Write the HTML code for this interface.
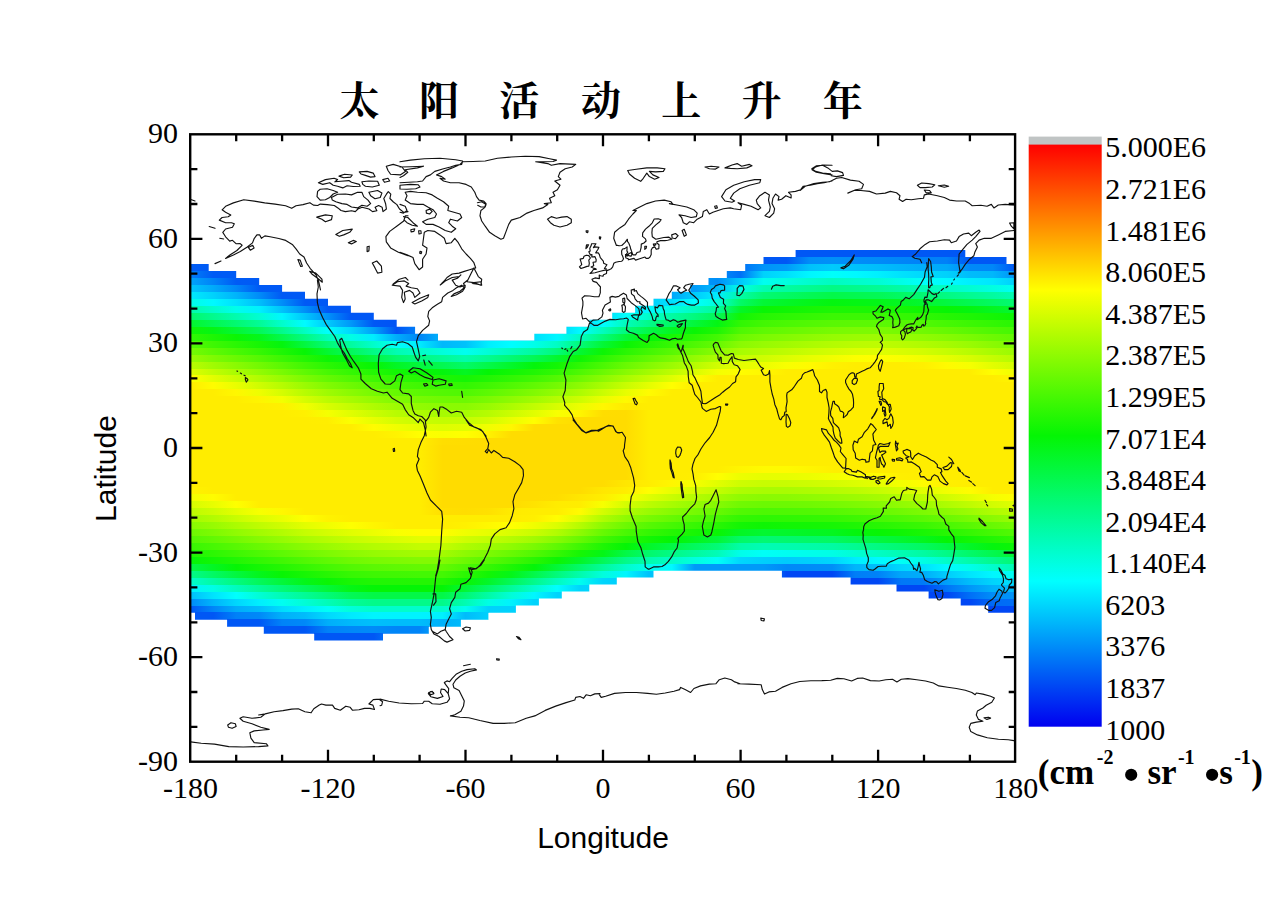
<!DOCTYPE html><html><head><meta charset="utf-8"><title>chart</title><style>html,body{margin:0;padding:0;background:#fff;overflow:hidden}body{width:1269px;height:897px;position:relative;font-family:"Liberation Sans",sans-serif}</style></head><body><svg width="1269" height="897" viewBox="0 0 1269 897" style="position:absolute;left:0;top:0"><defs><clipPath id="bc"><path d="M190.4 263.9 L208.7 263.9 L208.7 270.9 L236.2 270.9 L236.2 277.9 L259.2 277.9 L259.2 284.9 L282.1 284.9 L282.1 291.8 L305.0 291.8 L305.0 298.8 L328.0 298.8 L328.0 305.8 L350.9 305.8 L350.9 312.7 L373.8 312.7 L373.8 319.7 L396.7 319.7 L396.7 326.7 L415.1 326.7 L415.1 333.7 L438.0 333.7 L438.0 340.6 L534.3 340.6 L534.3 333.7 L566.4 333.7 L566.4 326.7 L589.3 326.7 L589.3 319.7 L612.2 319.7 L612.2 312.7 L635.1 312.7 L635.1 305.8 L653.5 305.8 L653.5 298.8 L671.8 298.8 L671.8 291.8 L690.2 291.8 L690.2 284.9 L708.5 284.9 L708.5 277.9 L726.8 277.9 L726.8 270.9 L745.2 270.9 L745.2 263.9 L763.5 263.9 L763.5 257.0 L795.6 257.0 L795.6 250.0 L965.3 250.0 L965.3 257.0 L1006.5 257.0 L1006.5 263.9 L1015.7 263.9 L1015.7 612.5 L988.2 612.5 L988.2 605.5 L960.7 605.5 L960.7 598.5 L928.6 598.5 L928.6 591.6 L896.5 591.6 L896.5 584.6 L850.6 584.6 L850.6 577.6 L781.9 577.6 L781.9 570.7 L653.5 570.7 L653.5 577.6 L616.8 577.6 L616.8 584.6 L589.3 584.6 L589.3 591.6 L561.8 591.6 L561.8 598.5 L538.9 598.5 L538.9 605.5 L515.9 605.5 L515.9 612.5 L488.4 612.5 L488.4 619.5 L460.9 619.5 L460.9 626.4 L428.8 626.4 L428.8 633.4 L383.0 633.4 L383.0 640.4 L314.2 640.4 L314.2 633.4 L263.8 633.4 L263.8 626.4 L227.1 626.4 L227.1 619.5 L195.0 619.5 L195.0 612.5 L190.4 612.5Z"/></clipPath><linearGradient id="r0" gradientUnits="userSpaceOnUse" x1="190.4" x2="1015.7" y1="0" y2="0"><stop offset="0" stop-color="#005cf5"/><stop offset=".0278" stop-color="#005bf5"/><stop offset=".0556" stop-color="#005bf5"/><stop offset=".0833" stop-color="#005af5"/><stop offset=".1111" stop-color="#0059f5"/><stop offset=".1389" stop-color="#0059f5"/><stop offset=".1667" stop-color="#0058f5"/><stop offset=".1944" stop-color="#0057f5"/><stop offset=".2222" stop-color="#0057f5"/><stop offset=".25" stop-color="#0052f5"/><stop offset=".2778" stop-color="#0085f8"/><stop offset=".3056" stop-color="#00b8fb"/><stop offset=".3333" stop-color="#00c2fb"/><stop offset=".3611" stop-color="#0051f5"/><stop offset=".3889" stop-color="#0051f5"/><stop offset=".4167" stop-color="#00e0fd"/><stop offset=".4444" stop-color="#0051f5"/><stop offset=".4722" stop-color="#0051f5"/><stop offset=".5" stop-color="#0051f5"/><stop offset=".5278" stop-color="#0051f5"/><stop offset=".5556" stop-color="#0051f5"/><stop offset=".5833" stop-color="#00a7fa"/><stop offset=".6111" stop-color="#009bf9"/><stop offset=".6389" stop-color="#008ff8"/><stop offset=".6667" stop-color="#0070f7"/><stop offset=".6944" stop-color="#0057f5"/><stop offset=".7222" stop-color="#0057f5"/><stop offset=".75" stop-color="#0057f5"/><stop offset=".7778" stop-color="#0057f5"/><stop offset=".8056" stop-color="#0057f5"/><stop offset=".8333" stop-color="#0057f5"/><stop offset=".8611" stop-color="#0057f5"/><stop offset=".8889" stop-color="#0057f5"/><stop offset=".9167" stop-color="#0057f5"/><stop offset=".9444" stop-color="#0057f5"/><stop offset=".9722" stop-color="#0057f5"/><stop offset="1" stop-color="#0057f5"/></linearGradient><linearGradient id="r1" gradientUnits="userSpaceOnUse" x1="190.4" x2="1015.7" y1="0" y2="0"><stop offset="0" stop-color="#005cf5"/><stop offset=".0278" stop-color="#005bf5"/><stop offset=".0556" stop-color="#005bf5"/><stop offset=".0833" stop-color="#005af5"/><stop offset=".1111" stop-color="#0059f5"/><stop offset=".1389" stop-color="#0059f5"/><stop offset=".1667" stop-color="#0058f5"/><stop offset=".1944" stop-color="#0057f5"/><stop offset=".2222" stop-color="#0057f5"/><stop offset=".25" stop-color="#0052f5"/><stop offset=".2778" stop-color="#0085f8"/><stop offset=".3056" stop-color="#00b8fb"/><stop offset=".3333" stop-color="#00c2fb"/><stop offset=".3611" stop-color="#0051f5"/><stop offset=".3889" stop-color="#0051f5"/><stop offset=".4167" stop-color="#00e0fd"/><stop offset=".4444" stop-color="#0051f5"/><stop offset=".4722" stop-color="#0051f5"/><stop offset=".5" stop-color="#0051f5"/><stop offset=".5278" stop-color="#0051f5"/><stop offset=".5556" stop-color="#0051f5"/><stop offset=".5833" stop-color="#00a7fa"/><stop offset=".6111" stop-color="#009bf9"/><stop offset=".6389" stop-color="#008ff8"/><stop offset=".6667" stop-color="#0070f7"/><stop offset=".6944" stop-color="#0057f5"/><stop offset=".7222" stop-color="#0057f5"/><stop offset=".75" stop-color="#008cf8"/><stop offset=".7778" stop-color="#0090f8"/><stop offset=".8056" stop-color="#008df8"/><stop offset=".8333" stop-color="#008af8"/><stop offset=".8611" stop-color="#0085f8"/><stop offset=".8889" stop-color="#0082f8"/><stop offset=".9167" stop-color="#0080f8"/><stop offset=".9444" stop-color="#0057f5"/><stop offset=".9722" stop-color="#0057f5"/><stop offset="1" stop-color="#0057f5"/></linearGradient><linearGradient id="r2" gradientUnits="userSpaceOnUse" x1="190.4" x2="1015.7" y1="0" y2="0"><stop offset="0" stop-color="#005cf5"/><stop offset=".0278" stop-color="#005bf5"/><stop offset=".0556" stop-color="#005bf5"/><stop offset=".0833" stop-color="#005af5"/><stop offset=".1111" stop-color="#0059f5"/><stop offset=".1389" stop-color="#0059f5"/><stop offset=".1667" stop-color="#0058f5"/><stop offset=".1944" stop-color="#0057f5"/><stop offset=".2222" stop-color="#0057f5"/><stop offset=".25" stop-color="#0052f5"/><stop offset=".2778" stop-color="#0085f8"/><stop offset=".3056" stop-color="#00b8fb"/><stop offset=".3333" stop-color="#00c2fb"/><stop offset=".3611" stop-color="#0051f5"/><stop offset=".3889" stop-color="#0051f5"/><stop offset=".4167" stop-color="#00e0fd"/><stop offset=".4444" stop-color="#0051f5"/><stop offset=".4722" stop-color="#0051f5"/><stop offset=".5" stop-color="#0051f5"/><stop offset=".5278" stop-color="#0051f5"/><stop offset=".5556" stop-color="#0051f5"/><stop offset=".5833" stop-color="#00a7fa"/><stop offset=".6111" stop-color="#009bf9"/><stop offset=".6389" stop-color="#008ff8"/><stop offset=".6667" stop-color="#0070f7"/><stop offset=".6944" stop-color="#0094f9"/><stop offset=".7222" stop-color="#009bf9"/><stop offset=".75" stop-color="#00c1fb"/><stop offset=".7778" stop-color="#00cafc"/><stop offset=".8056" stop-color="#00c3fb"/><stop offset=".8333" stop-color="#00bdfb"/><stop offset=".8611" stop-color="#00b4fb"/><stop offset=".8889" stop-color="#00adfa"/><stop offset=".9167" stop-color="#00a8fa"/><stop offset=".9444" stop-color="#008af8"/><stop offset=".9722" stop-color="#0087f8"/><stop offset="1" stop-color="#0057f5"/></linearGradient><linearGradient id="r3" gradientUnits="userSpaceOnUse" x1="190.4" x2="1015.7" y1="0" y2="0"><stop offset="0" stop-color="#007ff7"/><stop offset=".0278" stop-color="#005bf5"/><stop offset=".0556" stop-color="#005bf5"/><stop offset=".0833" stop-color="#005af5"/><stop offset=".1111" stop-color="#0059f5"/><stop offset=".1389" stop-color="#0059f5"/><stop offset=".1667" stop-color="#0058f5"/><stop offset=".1944" stop-color="#0057f5"/><stop offset=".2222" stop-color="#0057f5"/><stop offset=".25" stop-color="#0052f5"/><stop offset=".2778" stop-color="#0085f8"/><stop offset=".3056" stop-color="#00b8fb"/><stop offset=".3333" stop-color="#00c2fb"/><stop offset=".3611" stop-color="#0051f5"/><stop offset=".3889" stop-color="#0051f5"/><stop offset=".4167" stop-color="#00e0fd"/><stop offset=".4444" stop-color="#0051f5"/><stop offset=".4722" stop-color="#0051f5"/><stop offset=".5" stop-color="#0051f5"/><stop offset=".5278" stop-color="#0051f5"/><stop offset=".5556" stop-color="#0051f5"/><stop offset=".5833" stop-color="#00a7fa"/><stop offset=".6111" stop-color="#009bf9"/><stop offset=".6389" stop-color="#008ff8"/><stop offset=".6667" stop-color="#0070f7"/><stop offset=".6944" stop-color="#00d2fc"/><stop offset=".7222" stop-color="#00e0fd"/><stop offset=".75" stop-color="#00f6fe"/><stop offset=".7778" stop-color="#00fffa"/><stop offset=".8056" stop-color="#00f9ff"/><stop offset=".8333" stop-color="#00f0fe"/><stop offset=".8611" stop-color="#00e2fd"/><stop offset=".8889" stop-color="#00d8fd"/><stop offset=".9167" stop-color="#00d1fc"/><stop offset=".9444" stop-color="#00bcfb"/><stop offset=".9722" stop-color="#00b7fb"/><stop offset="1" stop-color="#0093f9"/></linearGradient><linearGradient id="r4" gradientUnits="userSpaceOnUse" x1="190.4" x2="1015.7" y1="0" y2="0"><stop offset="0" stop-color="#00a3fa"/><stop offset=".0278" stop-color="#0083f8"/><stop offset=".0556" stop-color="#005bf5"/><stop offset=".0833" stop-color="#005af5"/><stop offset=".1111" stop-color="#0059f5"/><stop offset=".1389" stop-color="#0059f5"/><stop offset=".1667" stop-color="#0058f5"/><stop offset=".1944" stop-color="#0057f5"/><stop offset=".2222" stop-color="#0057f5"/><stop offset=".25" stop-color="#0052f5"/><stop offset=".2778" stop-color="#0085f8"/><stop offset=".3056" stop-color="#00b8fb"/><stop offset=".3333" stop-color="#00c2fb"/><stop offset=".3611" stop-color="#0051f5"/><stop offset=".3889" stop-color="#0051f5"/><stop offset=".4167" stop-color="#00e0fd"/><stop offset=".4444" stop-color="#0051f5"/><stop offset=".4722" stop-color="#0051f5"/><stop offset=".5" stop-color="#0051f5"/><stop offset=".5278" stop-color="#0051f5"/><stop offset=".5556" stop-color="#0057f5"/><stop offset=".5833" stop-color="#00a7fa"/><stop offset=".6111" stop-color="#009bf9"/><stop offset=".6389" stop-color="#008ff8"/><stop offset=".6667" stop-color="#00c9fc"/><stop offset=".6944" stop-color="#00feef"/><stop offset=".7222" stop-color="#01fede"/><stop offset=".75" stop-color="#01fdcd"/><stop offset=".7778" stop-color="#01fcbf"/><stop offset=".8056" stop-color="#01fdc9"/><stop offset=".8333" stop-color="#01fdd3"/><stop offset=".8611" stop-color="#00fee7"/><stop offset=".8889" stop-color="#00fffa"/><stop offset=".9167" stop-color="#00faff"/><stop offset=".9444" stop-color="#00effe"/><stop offset=".9722" stop-color="#00e7fe"/><stop offset="1" stop-color="#00cffc"/></linearGradient><linearGradient id="r5" gradientUnits="userSpaceOnUse" x1="190.4" x2="1015.7" y1="0" y2="0"><stop offset="0" stop-color="#00c6fc"/><stop offset=".0278" stop-color="#00aafa"/><stop offset=".0556" stop-color="#0087f8"/><stop offset=".0833" stop-color="#005af5"/><stop offset=".1111" stop-color="#0059f5"/><stop offset=".1389" stop-color="#0059f5"/><stop offset=".1667" stop-color="#0058f5"/><stop offset=".1944" stop-color="#0057f5"/><stop offset=".2222" stop-color="#0057f5"/><stop offset=".25" stop-color="#0052f5"/><stop offset=".2778" stop-color="#0085f8"/><stop offset=".3056" stop-color="#00b8fb"/><stop offset=".3333" stop-color="#00c2fb"/><stop offset=".3611" stop-color="#0051f5"/><stop offset=".3889" stop-color="#0051f5"/><stop offset=".4167" stop-color="#00e0fd"/><stop offset=".4444" stop-color="#0051f5"/><stop offset=".4722" stop-color="#0051f5"/><stop offset=".5" stop-color="#0051f5"/><stop offset=".5278" stop-color="#005ff6"/><stop offset=".5556" stop-color="#0080f8"/><stop offset=".5833" stop-color="#00a7fa"/><stop offset=".6111" stop-color="#009bf9"/><stop offset=".6389" stop-color="#00bdfb"/><stop offset=".6667" stop-color="#00fee6"/><stop offset=".6944" stop-color="#01fcb1"/><stop offset=".7222" stop-color="#01fba1"/><stop offset=".75" stop-color="#02fb92"/><stop offset=".7778" stop-color="#02fa84"/><stop offset=".8056" stop-color="#02fa8c"/><stop offset=".8333" stop-color="#02fb95"/><stop offset=".8611" stop-color="#01fba5"/><stop offset=".8889" stop-color="#01fcb6"/><stop offset=".9167" stop-color="#01fdc5"/><stop offset=".9444" stop-color="#01fdd2"/><stop offset=".9722" stop-color="#01fee0"/><stop offset="1" stop-color="#00fff3"/></linearGradient><linearGradient id="r6" gradientUnits="userSpaceOnUse" x1="190.4" x2="1015.7" y1="0" y2="0"><stop offset="0" stop-color="#00eafe"/><stop offset=".0278" stop-color="#00d2fc"/><stop offset=".0556" stop-color="#00b4fb"/><stop offset=".0833" stop-color="#008cf8"/><stop offset=".1111" stop-color="#0059f5"/><stop offset=".1389" stop-color="#0059f5"/><stop offset=".1667" stop-color="#0058f5"/><stop offset=".1944" stop-color="#0057f5"/><stop offset=".2222" stop-color="#0057f5"/><stop offset=".25" stop-color="#0052f5"/><stop offset=".2778" stop-color="#0085f8"/><stop offset=".3056" stop-color="#00b8fb"/><stop offset=".3333" stop-color="#00c2fb"/><stop offset=".3611" stop-color="#0051f5"/><stop offset=".3889" stop-color="#0051f5"/><stop offset=".4167" stop-color="#00e0fd"/><stop offset=".4444" stop-color="#0051f5"/><stop offset=".4722" stop-color="#0051f5"/><stop offset=".5" stop-color="#005cf5"/><stop offset=".5278" stop-color="#0087f8"/><stop offset=".5556" stop-color="#00a8fa"/><stop offset=".5833" stop-color="#00a7fa"/><stop offset=".6111" stop-color="#00cdfc"/><stop offset=".6389" stop-color="#00ebfe"/><stop offset=".6667" stop-color="#01fba6"/><stop offset=".6944" stop-color="#02f973"/><stop offset=".7222" stop-color="#02f964"/><stop offset=".75" stop-color="#03f856"/><stop offset=".7778" stop-color="#03f849"/><stop offset=".8056" stop-color="#03f850"/><stop offset=".8333" stop-color="#03f856"/><stop offset=".8611" stop-color="#02f964"/><stop offset=".8889" stop-color="#02f973"/><stop offset=".9167" stop-color="#02fa83"/><stop offset=".9444" stop-color="#02fb91"/><stop offset=".9722" stop-color="#02fba0"/><stop offset="1" stop-color="#01fcb3"/></linearGradient><linearGradient id="r7" gradientUnits="userSpaceOnUse" x1="190.4" x2="1015.7" y1="0" y2="0"><stop offset="0" stop-color="#00fee6"/><stop offset=".0278" stop-color="#00f9ff"/><stop offset=".0556" stop-color="#00e1fd"/><stop offset=".0833" stop-color="#00bffb"/><stop offset=".1111" stop-color="#008ef8"/><stop offset=".1389" stop-color="#0059f5"/><stop offset=".1667" stop-color="#0058f5"/><stop offset=".1944" stop-color="#0057f5"/><stop offset=".2222" stop-color="#0057f5"/><stop offset=".25" stop-color="#0052f5"/><stop offset=".2778" stop-color="#0085f8"/><stop offset=".3056" stop-color="#00b8fb"/><stop offset=".3333" stop-color="#00c2fb"/><stop offset=".3611" stop-color="#0051f5"/><stop offset=".3889" stop-color="#0051f5"/><stop offset=".4167" stop-color="#00e0fd"/><stop offset=".4444" stop-color="#0051f5"/><stop offset=".4722" stop-color="#0058f5"/><stop offset=".5" stop-color="#0084f8"/><stop offset=".5278" stop-color="#00b0fa"/><stop offset=".5556" stop-color="#00d1fc"/><stop offset=".5833" stop-color="#00dffd"/><stop offset=".6111" stop-color="#00ffff"/><stop offset=".6389" stop-color="#01fdd9"/><stop offset=".6667" stop-color="#02f967"/><stop offset=".6944" stop-color="#03f736"/><stop offset=".7222" stop-color="#03f628"/><stop offset=".75" stop-color="#04f61a"/><stop offset=".7778" stop-color="#04f50f"/><stop offset=".8056" stop-color="#04f613"/><stop offset=".8333" stop-color="#04f618"/><stop offset=".8611" stop-color="#04f623"/><stop offset=".8889" stop-color="#03f730"/><stop offset=".9167" stop-color="#03f741"/><stop offset=".9444" stop-color="#03f850"/><stop offset=".9722" stop-color="#03f960"/><stop offset="1" stop-color="#02f972"/></linearGradient><linearGradient id="r8" gradientUnits="userSpaceOnUse" x1="190.4" x2="1015.7" y1="0" y2="0"><stop offset="0" stop-color="#01fca9"/><stop offset=".0278" stop-color="#01fdca"/><stop offset=".0556" stop-color="#00feeb"/><stop offset=".0833" stop-color="#00f1fe"/><stop offset=".1111" stop-color="#00c2fb"/><stop offset=".1389" stop-color="#008ff8"/><stop offset=".1667" stop-color="#0058f5"/><stop offset=".1944" stop-color="#0057f5"/><stop offset=".2222" stop-color="#0057f5"/><stop offset=".25" stop-color="#0052f5"/><stop offset=".2778" stop-color="#0085f8"/><stop offset=".3056" stop-color="#00b8fb"/><stop offset=".3333" stop-color="#00c2fb"/><stop offset=".3611" stop-color="#0051f5"/><stop offset=".3889" stop-color="#0051f5"/><stop offset=".4167" stop-color="#00e0fd"/><stop offset=".4444" stop-color="#0055f5"/><stop offset=".4722" stop-color="#0081f8"/><stop offset=".5" stop-color="#00adfa"/><stop offset=".5278" stop-color="#00d9fd"/><stop offset=".5556" stop-color="#00f9ff"/><stop offset=".5833" stop-color="#00fee3"/><stop offset=".6111" stop-color="#01fcbe"/><stop offset=".6389" stop-color="#02fb97"/><stop offset=".6667" stop-color="#03f627"/><stop offset=".6944" stop-color="#09f504"/><stop offset=".7222" stop-color="#10f504"/><stop offset=".75" stop-color="#17f604"/><stop offset=".7778" stop-color="#1df604"/><stop offset=".8056" stop-color="#1cf604"/><stop offset=".8333" stop-color="#1af604"/><stop offset=".8611" stop-color="#15f604"/><stop offset=".8889" stop-color="#0ff504"/><stop offset=".9167" stop-color="#07f504"/><stop offset=".9444" stop-color="#04f50f"/><stop offset=".9722" stop-color="#04f620"/><stop offset="1" stop-color="#03f732"/></linearGradient><linearGradient id="r9" gradientUnits="userSpaceOnUse" x1="190.4" x2="1015.7" y1="0" y2="0"><stop offset="0" stop-color="#02f96c"/><stop offset=".0278" stop-color="#02fa8d"/><stop offset=".0556" stop-color="#01fcae"/><stop offset=".0833" stop-color="#01fdd2"/><stop offset=".1111" stop-color="#00f6fe"/><stop offset=".1389" stop-color="#00c5fc"/><stop offset=".1667" stop-color="#0091f9"/><stop offset=".1944" stop-color="#0057f5"/><stop offset=".2222" stop-color="#0057f5"/><stop offset=".25" stop-color="#0052f5"/><stop offset=".2778" stop-color="#0085f8"/><stop offset=".3056" stop-color="#00b8fb"/><stop offset=".3333" stop-color="#00c2fb"/><stop offset=".3611" stop-color="#0051f5"/><stop offset=".3889" stop-color="#005bf5"/><stop offset=".4167" stop-color="#00e0fd"/><stop offset=".4444" stop-color="#007ef7"/><stop offset=".4722" stop-color="#00a9fa"/><stop offset=".5" stop-color="#00d5fd"/><stop offset=".5278" stop-color="#00fffc"/><stop offset=".5556" stop-color="#01fdc8"/><stop offset=".5833" stop-color="#01fba3"/><stop offset=".6111" stop-color="#02fa7c"/><stop offset=".6389" stop-color="#03f855"/><stop offset=".6667" stop-color="#12f604"/><stop offset=".6944" stop-color="#26f603"/><stop offset=".7222" stop-color="#2df703"/><stop offset=".75" stop-color="#34f703"/><stop offset=".7778" stop-color="#3bf703"/><stop offset=".8056" stop-color="#3cf703"/><stop offset=".8333" stop-color="#3bf703"/><stop offset=".8611" stop-color="#35f703"/><stop offset=".8889" stop-color="#2ff703"/><stop offset=".9167" stop-color="#26f603"/><stop offset=".9444" stop-color="#1ef604"/><stop offset=".9722" stop-color="#15f604"/><stop offset="1" stop-color="#0cf504"/></linearGradient><linearGradient id="r10" gradientUnits="userSpaceOnUse" x1="190.4" x2="1015.7" y1="0" y2="0"><stop offset="0" stop-color="#03f72e"/><stop offset=".0278" stop-color="#03f850"/><stop offset=".0556" stop-color="#02f971"/><stop offset=".0833" stop-color="#02fb95"/><stop offset=".1111" stop-color="#01fdcb"/><stop offset=".1389" stop-color="#00fbff"/><stop offset=".1667" stop-color="#00c9fc"/><stop offset=".1944" stop-color="#0098f9"/><stop offset=".2222" stop-color="#0057f5"/><stop offset=".25" stop-color="#0052f5"/><stop offset=".2778" stop-color="#0085f8"/><stop offset=".3056" stop-color="#00b8fb"/><stop offset=".3333" stop-color="#00c2fb"/><stop offset=".3611" stop-color="#0075f7"/><stop offset=".3889" stop-color="#0083f8"/><stop offset=".4167" stop-color="#00e0fd"/><stop offset=".4444" stop-color="#00a6fa"/><stop offset=".4722" stop-color="#00d2fc"/><stop offset=".5" stop-color="#00feff"/><stop offset=".5278" stop-color="#01fcbb"/><stop offset=".5556" stop-color="#02fa89"/><stop offset=".5833" stop-color="#02f962"/><stop offset=".6111" stop-color="#03f73b"/><stop offset=".6389" stop-color="#04f613"/><stop offset=".6667" stop-color="#30f703"/><stop offset=".6944" stop-color="#42f703"/><stop offset=".7222" stop-color="#4af803"/><stop offset=".75" stop-color="#52f803"/><stop offset=".7778" stop-color="#59f803"/><stop offset=".8056" stop-color="#5cf803"/><stop offset=".8333" stop-color="#5cf903"/><stop offset=".8611" stop-color="#56f803"/><stop offset=".8889" stop-color="#50f803"/><stop offset=".9167" stop-color="#46f803"/><stop offset=".9444" stop-color="#3cf703"/><stop offset=".9722" stop-color="#32f703"/><stop offset="1" stop-color="#28f603"/></linearGradient><linearGradient id="r11" gradientUnits="userSpaceOnUse" x1="190.4" x2="1015.7" y1="0" y2="0"><stop offset="0" stop-color="#0ff504"/><stop offset=".0278" stop-color="#04f613"/><stop offset=".0556" stop-color="#03f734"/><stop offset=".0833" stop-color="#03f858"/><stop offset=".1111" stop-color="#02fa8b"/><stop offset=".1389" stop-color="#01fdc2"/><stop offset=".1667" stop-color="#00fffc"/><stop offset=".1944" stop-color="#00d8fd"/><stop offset=".2222" stop-color="#00a1f9"/><stop offset=".25" stop-color="#0052f5"/><stop offset=".2778" stop-color="#0085f8"/><stop offset=".3056" stop-color="#00b8fb"/><stop offset=".3333" stop-color="#00c2fb"/><stop offset=".3611" stop-color="#009df9"/><stop offset=".3889" stop-color="#00acfa"/><stop offset=".4167" stop-color="#00e0fd"/><stop offset=".4444" stop-color="#00cffc"/><stop offset=".4722" stop-color="#00faff"/><stop offset=".5" stop-color="#01fcbd"/><stop offset=".5278" stop-color="#02fa7a"/><stop offset=".5556" stop-color="#03f849"/><stop offset=".5833" stop-color="#04f622"/><stop offset=".6111" stop-color="#09f504"/><stop offset=".6389" stop-color="#1ff604"/><stop offset=".6667" stop-color="#4ef803"/><stop offset=".6944" stop-color="#5ef903"/><stop offset=".7222" stop-color="#67f902"/><stop offset=".75" stop-color="#70f902"/><stop offset=".7778" stop-color="#78fa02"/><stop offset=".8056" stop-color="#7cfa02"/><stop offset=".8333" stop-color="#7dfa02"/><stop offset=".8611" stop-color="#76fa02"/><stop offset=".8889" stop-color="#70f902"/><stop offset=".9167" stop-color="#66f902"/><stop offset=".9444" stop-color="#5bf803"/><stop offset=".9722" stop-color="#4ff803"/><stop offset="1" stop-color="#45f803"/></linearGradient><linearGradient id="r12" gradientUnits="userSpaceOnUse" x1="190.4" x2="1015.7" y1="0" y2="0"><stop offset="0" stop-color="#31f703"/><stop offset=".0278" stop-color="#1df604"/><stop offset=".0556" stop-color="#0bf504"/><stop offset=".0833" stop-color="#04f61b"/><stop offset=".1111" stop-color="#03f84c"/><stop offset=".1389" stop-color="#02fa81"/><stop offset=".1667" stop-color="#01fcb8"/><stop offset=".1944" stop-color="#00fee4"/><stop offset=".2222" stop-color="#00ecfe"/><stop offset=".25" stop-color="#00adfa"/><stop offset=".2778" stop-color="#0085f8"/><stop offset=".3056" stop-color="#00b8fb"/><stop offset=".3333" stop-color="#00c2fb"/><stop offset=".3611" stop-color="#00c6fc"/><stop offset=".3889" stop-color="#00d4fc"/><stop offset=".4167" stop-color="#00e0fd"/><stop offset=".4444" stop-color="#00f7ff"/><stop offset=".4722" stop-color="#01fcc0"/><stop offset=".5" stop-color="#02fa7a"/><stop offset=".5278" stop-color="#03f73a"/><stop offset=".5556" stop-color="#04f509"/><stop offset=".5833" stop-color="#16f604"/><stop offset=".6111" stop-color="#2cf703"/><stop offset=".6389" stop-color="#43f803"/><stop offset=".6667" stop-color="#6cf902"/><stop offset=".6944" stop-color="#7bfa02"/><stop offset=".7222" stop-color="#84fa02"/><stop offset=".75" stop-color="#8efa02"/><stop offset=".7778" stop-color="#96fb02"/><stop offset=".8056" stop-color="#9bfb02"/><stop offset=".8333" stop-color="#9efb02"/><stop offset=".8611" stop-color="#97fb02"/><stop offset=".8889" stop-color="#90fb02"/><stop offset=".9167" stop-color="#86fa02"/><stop offset=".9444" stop-color="#7afa02"/><stop offset=".9722" stop-color="#6df902"/><stop offset="1" stop-color="#61f903"/></linearGradient><linearGradient id="r13" gradientUnits="userSpaceOnUse" x1="190.4" x2="1015.7" y1="0" y2="0"><stop offset="0" stop-color="#53f803"/><stop offset=".0278" stop-color="#3ef703"/><stop offset=".0556" stop-color="#2af703"/><stop offset=".0833" stop-color="#17f604"/><stop offset=".1111" stop-color="#04f50d"/><stop offset=".1389" stop-color="#03f740"/><stop offset=".1667" stop-color="#02f975"/><stop offset=".1944" stop-color="#02fba0"/><stop offset=".2222" stop-color="#01fdcb"/><stop offset=".25" stop-color="#00fff8"/><stop offset=".2778" stop-color="#00ebfe"/><stop offset=".3056" stop-color="#00b8fb"/><stop offset=".3333" stop-color="#00c2fb"/><stop offset=".3611" stop-color="#00eefe"/><stop offset=".3889" stop-color="#00fdff"/><stop offset=".4167" stop-color="#00fee9"/><stop offset=".4444" stop-color="#01fdc3"/><stop offset=".4722" stop-color="#02fa79"/><stop offset=".5" stop-color="#03f736"/><stop offset=".5278" stop-color="#09f504"/><stop offset=".5556" stop-color="#22f604"/><stop offset=".5833" stop-color="#37f703"/><stop offset=".6111" stop-color="#4ff803"/><stop offset=".6389" stop-color="#66f902"/><stop offset=".6667" stop-color="#8afa02"/><stop offset=".6944" stop-color="#97fb02"/><stop offset=".7222" stop-color="#a1fb01"/><stop offset=".75" stop-color="#abfc01"/><stop offset=".7778" stop-color="#b4fc01"/><stop offset=".8056" stop-color="#bbfc01"/><stop offset=".8333" stop-color="#befc01"/><stop offset=".8611" stop-color="#b8fc01"/><stop offset=".8889" stop-color="#b0fc01"/><stop offset=".9167" stop-color="#a6fb01"/><stop offset=".9444" stop-color="#99fb02"/><stop offset=".9722" stop-color="#8afa02"/><stop offset="1" stop-color="#7dfa02"/></linearGradient><linearGradient id="r14" gradientUnits="userSpaceOnUse" x1="190.4" x2="1015.7" y1="0" y2="0"><stop offset="0" stop-color="#76fa02"/><stop offset=".0278" stop-color="#5ff903"/><stop offset=".0556" stop-color="#4af803"/><stop offset=".0833" stop-color="#36f703"/><stop offset=".1111" stop-color="#1ef604"/><stop offset=".1389" stop-color="#07f504"/><stop offset=".1667" stop-color="#03f732"/><stop offset=".1944" stop-color="#03f85b"/><stop offset=".2222" stop-color="#02fa86"/><stop offset=".25" stop-color="#01fcb2"/><stop offset=".2778" stop-color="#01fdc7"/><stop offset=".3056" stop-color="#01fedb"/><stop offset=".3333" stop-color="#00feef"/><stop offset=".3611" stop-color="#01fdd6"/><stop offset=".3889" stop-color="#01fcbb"/><stop offset=".4167" stop-color="#02fb9f"/><stop offset=".4444" stop-color="#02fa78"/><stop offset=".4722" stop-color="#03f732"/><stop offset=".5" stop-color="#0cf504"/><stop offset=".5278" stop-color="#29f603"/><stop offset=".5556" stop-color="#42f703"/><stop offset=".5833" stop-color="#59f803"/><stop offset=".6111" stop-color="#71f902"/><stop offset=".6389" stop-color="#8afa02"/><stop offset=".6667" stop-color="#a8fc01"/><stop offset=".6944" stop-color="#b3fc01"/><stop offset=".7222" stop-color="#befc01"/><stop offset=".75" stop-color="#c9fd01"/><stop offset=".7778" stop-color="#d3fd01"/><stop offset=".8056" stop-color="#dbfe01"/><stop offset=".8333" stop-color="#dffe01"/><stop offset=".8611" stop-color="#d8fd01"/><stop offset=".8889" stop-color="#d1fd01"/><stop offset=".9167" stop-color="#c5fd01"/><stop offset=".9444" stop-color="#b8fc01"/><stop offset=".9722" stop-color="#a8fc01"/><stop offset="1" stop-color="#9afb02"/></linearGradient><linearGradient id="r15" gradientUnits="userSpaceOnUse" x1="190.4" x2="1015.7" y1="0" y2="0"><stop offset="0" stop-color="#98fb02"/><stop offset=".0278" stop-color="#7ffa02"/><stop offset=".0556" stop-color="#6af902"/><stop offset=".0833" stop-color="#55f803"/><stop offset=".1111" stop-color="#3cf703"/><stop offset=".1389" stop-color="#24f603"/><stop offset=".1667" stop-color="#0df504"/><stop offset=".1944" stop-color="#04f617"/><stop offset=".2222" stop-color="#03f741"/><stop offset=".25" stop-color="#02f96c"/><stop offset=".2778" stop-color="#02fa82"/><stop offset=".3056" stop-color="#02fb96"/><stop offset=".3333" stop-color="#01fcab"/><stop offset=".3611" stop-color="#02fb90"/><stop offset=".3889" stop-color="#02f973"/><stop offset=".4167" stop-color="#03f855"/><stop offset=".4444" stop-color="#03f72e"/><stop offset=".4722" stop-color="#0ff504"/><stop offset=".5" stop-color="#2cf703"/><stop offset=".5278" stop-color="#49f803"/><stop offset=".5556" stop-color="#62f902"/><stop offset=".5833" stop-color="#7afa02"/><stop offset=".6111" stop-color="#94fb02"/><stop offset=".6389" stop-color="#adfc01"/><stop offset=".6667" stop-color="#c6fd01"/><stop offset=".6944" stop-color="#cffd01"/><stop offset=".7222" stop-color="#dbfe01"/><stop offset=".75" stop-color="#e7fe00"/><stop offset=".7778" stop-color="#f1fe00"/><stop offset=".8056" stop-color="#fbff00"/><stop offset=".8333" stop-color="#fffe00"/><stop offset=".8611" stop-color="#f9ff00"/><stop offset=".8889" stop-color="#f1fe00"/><stop offset=".9167" stop-color="#e5fe00"/><stop offset=".9444" stop-color="#d7fd01"/><stop offset=".9722" stop-color="#c5fd01"/><stop offset="1" stop-color="#b6fc01"/></linearGradient><linearGradient id="r16" gradientUnits="userSpaceOnUse" x1="190.4" x2="1015.7" y1="0" y2="0"><stop offset="0" stop-color="#bafc01"/><stop offset=".0278" stop-color="#a0fb02"/><stop offset=".0556" stop-color="#8afa02"/><stop offset=".0833" stop-color="#73f902"/><stop offset=".1111" stop-color="#5bf803"/><stop offset=".1389" stop-color="#41f703"/><stop offset=".1667" stop-color="#2af703"/><stop offset=".1944" stop-color="#18f604"/><stop offset=".2222" stop-color="#07f504"/><stop offset=".25" stop-color="#03f626"/><stop offset=".2778" stop-color="#03f73c"/><stop offset=".3056" stop-color="#03f851"/><stop offset=".3333" stop-color="#02f966"/><stop offset=".3611" stop-color="#03f849"/><stop offset=".3889" stop-color="#03f72b"/><stop offset=".4167" stop-color="#04f50b"/><stop offset=".4444" stop-color="#13f604"/><stop offset=".4722" stop-color="#2ff703"/><stop offset=".5" stop-color="#4bf803"/><stop offset=".5278" stop-color="#69f902"/><stop offset=".5556" stop-color="#83fa02"/><stop offset=".5833" stop-color="#9cfb02"/><stop offset=".6111" stop-color="#b6fc01"/><stop offset=".6389" stop-color="#d1fd01"/><stop offset=".6667" stop-color="#e4fe00"/><stop offset=".6944" stop-color="#ecfe00"/><stop offset=".7222" stop-color="#f8ff00"/><stop offset=".75" stop-color="#fffa00"/><stop offset=".7778" stop-color="#fff100"/><stop offset=".8056" stop-color="#ffed00"/><stop offset=".8333" stop-color="#ffed00"/><stop offset=".8611" stop-color="#ffed00"/><stop offset=".8889" stop-color="#fff000"/><stop offset=".9167" stop-color="#fffa00"/><stop offset=".9444" stop-color="#f6ff00"/><stop offset=".9722" stop-color="#e2fe00"/><stop offset="1" stop-color="#d2fd01"/></linearGradient><linearGradient id="r17" gradientUnits="userSpaceOnUse" x1="190.4" x2="1015.7" y1="0" y2="0"><stop offset="0" stop-color="#ddfe01"/><stop offset=".0278" stop-color="#c1fd01"/><stop offset=".0556" stop-color="#a9fc01"/><stop offset=".0833" stop-color="#92fb02"/><stop offset=".1111" stop-color="#79fa02"/><stop offset=".1389" stop-color="#5ff903"/><stop offset=".1667" stop-color="#47f803"/><stop offset=".1944" stop-color="#35f703"/><stop offset=".2222" stop-color="#23f604"/><stop offset=".25" stop-color="#12f604"/><stop offset=".2778" stop-color="#09f504"/><stop offset=".3056" stop-color="#04f50c"/><stop offset=".3333" stop-color="#04f622"/><stop offset=".3611" stop-color="#04f504"/><stop offset=".3889" stop-color="#12f604"/><stop offset=".4167" stop-color="#21f604"/><stop offset=".4444" stop-color="#33f703"/><stop offset=".4722" stop-color="#4ef803"/><stop offset=".5" stop-color="#6bf902"/><stop offset=".5278" stop-color="#88fa02"/><stop offset=".5556" stop-color="#a3fb01"/><stop offset=".5833" stop-color="#bdfc01"/><stop offset=".6111" stop-color="#d9fd01"/><stop offset=".6389" stop-color="#f4ff00"/><stop offset=".6667" stop-color="#fffc00"/><stop offset=".6944" stop-color="#fff700"/><stop offset=".7222" stop-color="#ffed00"/><stop offset=".75" stop-color="#ffed00"/><stop offset=".7778" stop-color="#ffed00"/><stop offset=".8056" stop-color="#ffed00"/><stop offset=".8333" stop-color="#ffed00"/><stop offset=".8611" stop-color="#ffed00"/><stop offset=".8889" stop-color="#ffed00"/><stop offset=".9167" stop-color="#ffed00"/><stop offset=".9444" stop-color="#ffed00"/><stop offset=".9722" stop-color="#fffe00"/><stop offset="1" stop-color="#effe00"/></linearGradient><linearGradient id="r18" gradientUnits="userSpaceOnUse" x1="190.4" x2="1015.7" y1="0" y2="0"><stop offset="0" stop-color="#ffff00"/><stop offset=".0278" stop-color="#e2fe00"/><stop offset=".0556" stop-color="#c9fd01"/><stop offset=".0833" stop-color="#b1fc01"/><stop offset=".1111" stop-color="#97fb02"/><stop offset=".1389" stop-color="#7cfa02"/><stop offset=".1667" stop-color="#64f902"/><stop offset=".1944" stop-color="#51f803"/><stop offset=".2222" stop-color="#3ff703"/><stop offset=".25" stop-color="#2ef703"/><stop offset=".2778" stop-color="#25f603"/><stop offset=".3056" stop-color="#1cf604"/><stop offset=".3333" stop-color="#15f604"/><stop offset=".3611" stop-color="#22f604"/><stop offset=".3889" stop-color="#31f703"/><stop offset=".4167" stop-color="#41f703"/><stop offset=".4444" stop-color="#54f803"/><stop offset=".4722" stop-color="#6ef902"/><stop offset=".5" stop-color="#8bfa02"/><stop offset=".5278" stop-color="#a8fc01"/><stop offset=".5556" stop-color="#c3fd01"/><stop offset=".5833" stop-color="#defe01"/><stop offset=".6111" stop-color="#fcff00"/><stop offset=".6389" stop-color="#ffed00"/><stop offset=".6667" stop-color="#ffed00"/><stop offset=".6944" stop-color="#ffed00"/><stop offset=".7222" stop-color="#ffed00"/><stop offset=".75" stop-color="#ffed00"/><stop offset=".7778" stop-color="#ffed00"/><stop offset=".8056" stop-color="#ffed00"/><stop offset=".8333" stop-color="#ffed00"/><stop offset=".8611" stop-color="#ffed00"/><stop offset=".8889" stop-color="#ffed00"/><stop offset=".9167" stop-color="#ffed00"/><stop offset=".9444" stop-color="#ffed00"/><stop offset=".9722" stop-color="#ffed00"/><stop offset="1" stop-color="#fff400"/></linearGradient><linearGradient id="r19" gradientUnits="userSpaceOnUse" x1="190.4" x2="1015.7" y1="0" y2="0"><stop offset="0" stop-color="#ffed00"/><stop offset=".0278" stop-color="#fffc00"/><stop offset=".0556" stop-color="#e9fe00"/><stop offset=".0833" stop-color="#cffd01"/><stop offset=".1111" stop-color="#b6fc01"/><stop offset=".1389" stop-color="#9afb02"/><stop offset=".1667" stop-color="#81fa02"/><stop offset=".1944" stop-color="#6ef902"/><stop offset=".2222" stop-color="#5bf803"/><stop offset=".25" stop-color="#49f803"/><stop offset=".2778" stop-color="#40f703"/><stop offset=".3056" stop-color="#38f703"/><stop offset=".3333" stop-color="#32f703"/><stop offset=".3611" stop-color="#40f703"/><stop offset=".3889" stop-color="#50f803"/><stop offset=".4167" stop-color="#61f903"/><stop offset=".4444" stop-color="#75f902"/><stop offset=".4722" stop-color="#8efa02"/><stop offset=".5" stop-color="#aafc01"/><stop offset=".5278" stop-color="#c8fd01"/><stop offset=".5556" stop-color="#e4fe00"/><stop offset=".5833" stop-color="#fffe00"/><stop offset=".6111" stop-color="#ffed00"/><stop offset=".6389" stop-color="#ffed00"/><stop offset=".6667" stop-color="#ffed00"/><stop offset=".6944" stop-color="#ffed00"/><stop offset=".7222" stop-color="#ffed00"/><stop offset=".75" stop-color="#ffed00"/><stop offset=".7778" stop-color="#ffed00"/><stop offset=".8056" stop-color="#ffed00"/><stop offset=".8333" stop-color="#ffed00"/><stop offset=".8611" stop-color="#ffed00"/><stop offset=".8889" stop-color="#ffed00"/><stop offset=".9167" stop-color="#ffed00"/><stop offset=".9444" stop-color="#ffed00"/><stop offset=".9722" stop-color="#ffed00"/><stop offset="1" stop-color="#ffed00"/></linearGradient><linearGradient id="r20" gradientUnits="userSpaceOnUse" x1="190.4" x2="1015.7" y1="0" y2="0"><stop offset="0" stop-color="#ffed00"/><stop offset=".0278" stop-color="#ffed00"/><stop offset=".0556" stop-color="#fff700"/><stop offset=".0833" stop-color="#eefe00"/><stop offset=".1111" stop-color="#d4fd01"/><stop offset=".1389" stop-color="#b7fc01"/><stop offset=".1667" stop-color="#9efb02"/><stop offset=".1944" stop-color="#8afa02"/><stop offset=".2222" stop-color="#77fa02"/><stop offset=".25" stop-color="#65f902"/><stop offset=".2778" stop-color="#5cf803"/><stop offset=".3056" stop-color="#54f803"/><stop offset=".3333" stop-color="#4ff803"/><stop offset=".3611" stop-color="#5df903"/><stop offset=".3889" stop-color="#6ff902"/><stop offset=".4167" stop-color="#81fa02"/><stop offset=".4444" stop-color="#95fb02"/><stop offset=".4722" stop-color="#adfc01"/><stop offset=".5" stop-color="#cafd01"/><stop offset=".5278" stop-color="#e7fe00"/><stop offset=".5556" stop-color="#fffb00"/><stop offset=".5833" stop-color="#ffed00"/><stop offset=".6111" stop-color="#ffed00"/><stop offset=".6389" stop-color="#ffed00"/><stop offset=".6667" stop-color="#ffed00"/><stop offset=".6944" stop-color="#ffed00"/><stop offset=".7222" stop-color="#ffed00"/><stop offset=".75" stop-color="#ffed00"/><stop offset=".7778" stop-color="#ffed00"/><stop offset=".8056" stop-color="#ffed00"/><stop offset=".8333" stop-color="#ffed00"/><stop offset=".8611" stop-color="#ffed00"/><stop offset=".8889" stop-color="#ffed00"/><stop offset=".9167" stop-color="#ffed00"/><stop offset=".9444" stop-color="#ffed00"/><stop offset=".9722" stop-color="#ffed00"/><stop offset="1" stop-color="#ffed00"/></linearGradient><linearGradient id="r21" gradientUnits="userSpaceOnUse" x1="190.4" x2="1015.7" y1="0" y2="0"><stop offset="0" stop-color="#ffed00"/><stop offset=".0278" stop-color="#ffed00"/><stop offset=".0556" stop-color="#ffed00"/><stop offset=".0833" stop-color="#fff400"/><stop offset=".1111" stop-color="#f3ff00"/><stop offset=".1389" stop-color="#d5fd01"/><stop offset=".1667" stop-color="#bbfc01"/><stop offset=".1944" stop-color="#a7fb01"/><stop offset=".2222" stop-color="#93fb02"/><stop offset=".25" stop-color="#81fa02"/><stop offset=".2778" stop-color="#77fa02"/><stop offset=".3056" stop-color="#70f902"/><stop offset=".3333" stop-color="#6df902"/><stop offset=".3611" stop-color="#7bfa02"/><stop offset=".3889" stop-color="#8efa02"/><stop offset=".4167" stop-color="#a1fb02"/><stop offset=".4444" stop-color="#b6fc01"/><stop offset=".4722" stop-color="#cdfd01"/><stop offset=".5" stop-color="#e9fe00"/><stop offset=".5278" stop-color="#fff900"/><stop offset=".5556" stop-color="#ffed00"/><stop offset=".5833" stop-color="#ffed00"/><stop offset=".6111" stop-color="#ffed00"/><stop offset=".6389" stop-color="#ffed00"/><stop offset=".6667" stop-color="#ffed00"/><stop offset=".6944" stop-color="#ffed00"/><stop offset=".7222" stop-color="#ffed00"/><stop offset=".75" stop-color="#ffed00"/><stop offset=".7778" stop-color="#ffed00"/><stop offset=".8056" stop-color="#ffed00"/><stop offset=".8333" stop-color="#ffed00"/><stop offset=".8611" stop-color="#ffed00"/><stop offset=".8889" stop-color="#ffed00"/><stop offset=".9167" stop-color="#ffed00"/><stop offset=".9444" stop-color="#ffed00"/><stop offset=".9722" stop-color="#ffed00"/><stop offset="1" stop-color="#ffed00"/></linearGradient><linearGradient id="r22" gradientUnits="userSpaceOnUse" x1="190.4" x2="1015.7" y1="0" y2="0"><stop offset="0" stop-color="#ffed00"/><stop offset=".0278" stop-color="#ffed00"/><stop offset=".0556" stop-color="#ffed00"/><stop offset=".0833" stop-color="#ffed00"/><stop offset=".1111" stop-color="#fff000"/><stop offset=".1389" stop-color="#f2ff00"/><stop offset=".1667" stop-color="#d8fd01"/><stop offset=".1944" stop-color="#c3fd01"/><stop offset=".2222" stop-color="#affc01"/><stop offset=".25" stop-color="#9dfb02"/><stop offset=".2778" stop-color="#92fb02"/><stop offset=".3056" stop-color="#8bfa02"/><stop offset=".3333" stop-color="#8afa02"/><stop offset=".3611" stop-color="#98fb02"/><stop offset=".3889" stop-color="#acfc01"/><stop offset=".4167" stop-color="#c1fd01"/><stop offset=".4444" stop-color="#d7fd01"/><stop offset=".4722" stop-color="#ecfe00"/><stop offset=".5" stop-color="#fff700"/><stop offset=".5278" stop-color="#ffeb00"/><stop offset=".5556" stop-color="#ffed00"/><stop offset=".5833" stop-color="#ffed00"/><stop offset=".6111" stop-color="#ffed00"/><stop offset=".6389" stop-color="#ffed00"/><stop offset=".6667" stop-color="#ffed00"/><stop offset=".6944" stop-color="#ffed00"/><stop offset=".7222" stop-color="#ffed00"/><stop offset=".75" stop-color="#ffed00"/><stop offset=".7778" stop-color="#ffed00"/><stop offset=".8056" stop-color="#ffed00"/><stop offset=".8333" stop-color="#ffed00"/><stop offset=".8611" stop-color="#ffed00"/><stop offset=".8889" stop-color="#ffed00"/><stop offset=".9167" stop-color="#ffed00"/><stop offset=".9444" stop-color="#ffed00"/><stop offset=".9722" stop-color="#ffed00"/><stop offset="1" stop-color="#ffed00"/></linearGradient><linearGradient id="r23" gradientUnits="userSpaceOnUse" x1="190.4" x2="1015.7" y1="0" y2="0"><stop offset="0" stop-color="#ffed00"/><stop offset=".0278" stop-color="#ffed00"/><stop offset=".0556" stop-color="#ffed00"/><stop offset=".0833" stop-color="#ffed00"/><stop offset=".1111" stop-color="#ffed00"/><stop offset=".1389" stop-color="#fff000"/><stop offset=".1667" stop-color="#f5ff00"/><stop offset=".1944" stop-color="#e0fe00"/><stop offset=".2222" stop-color="#cbfd01"/><stop offset=".25" stop-color="#b8fc01"/><stop offset=".2778" stop-color="#aefc01"/><stop offset=".3056" stop-color="#a7fb01"/><stop offset=".3333" stop-color="#a7fc01"/><stop offset=".3611" stop-color="#b6fc01"/><stop offset=".3889" stop-color="#cbfd01"/><stop offset=".4167" stop-color="#e1fe00"/><stop offset=".4444" stop-color="#f8ff00"/><stop offset=".4722" stop-color="#fff500"/><stop offset=".5" stop-color="#ffdd00"/><stop offset=".5278" stop-color="#ffdc00"/><stop offset=".5556" stop-color="#ffed00"/><stop offset=".5833" stop-color="#ffed00"/><stop offset=".6111" stop-color="#ffed00"/><stop offset=".6389" stop-color="#ffed00"/><stop offset=".6667" stop-color="#ffed00"/><stop offset=".6944" stop-color="#ffed00"/><stop offset=".7222" stop-color="#ffed00"/><stop offset=".75" stop-color="#ffed00"/><stop offset=".7778" stop-color="#ffed00"/><stop offset=".8056" stop-color="#ffed00"/><stop offset=".8333" stop-color="#ffed00"/><stop offset=".8611" stop-color="#ffed00"/><stop offset=".8889" stop-color="#ffed00"/><stop offset=".9167" stop-color="#ffed00"/><stop offset=".9444" stop-color="#ffed00"/><stop offset=".9722" stop-color="#ffed00"/><stop offset="1" stop-color="#ffed00"/></linearGradient><linearGradient id="r24" gradientUnits="userSpaceOnUse" x1="190.4" x2="1015.7" y1="0" y2="0"><stop offset="0" stop-color="#ffed00"/><stop offset=".0278" stop-color="#ffed00"/><stop offset=".0556" stop-color="#ffed00"/><stop offset=".0833" stop-color="#ffed00"/><stop offset=".1111" stop-color="#ffed00"/><stop offset=".1389" stop-color="#ffed00"/><stop offset=".1667" stop-color="#ffee00"/><stop offset=".1944" stop-color="#fcff00"/><stop offset=".2222" stop-color="#e7fe00"/><stop offset=".25" stop-color="#d4fd01"/><stop offset=".2778" stop-color="#c9fd01"/><stop offset=".3056" stop-color="#c3fd01"/><stop offset=".3333" stop-color="#c5fd01"/><stop offset=".3611" stop-color="#d3fd01"/><stop offset=".3889" stop-color="#eafe00"/><stop offset=".4167" stop-color="#fffe00"/><stop offset=".4444" stop-color="#ffe200"/><stop offset=".4722" stop-color="#ffdc00"/><stop offset=".5" stop-color="#ffdc00"/><stop offset=".5278" stop-color="#ffdc00"/><stop offset=".5556" stop-color="#ffed00"/><stop offset=".5833" stop-color="#ffed00"/><stop offset=".6111" stop-color="#ffed00"/><stop offset=".6389" stop-color="#ffed00"/><stop offset=".6667" stop-color="#ffed00"/><stop offset=".6944" stop-color="#ffed00"/><stop offset=".7222" stop-color="#ffed00"/><stop offset=".75" stop-color="#ffed00"/><stop offset=".7778" stop-color="#ffed00"/><stop offset=".8056" stop-color="#ffed00"/><stop offset=".8333" stop-color="#ffed00"/><stop offset=".8611" stop-color="#ffed00"/><stop offset=".8889" stop-color="#ffed00"/><stop offset=".9167" stop-color="#ffed00"/><stop offset=".9444" stop-color="#ffed00"/><stop offset=".9722" stop-color="#ffed00"/><stop offset="1" stop-color="#ffed00"/></linearGradient><linearGradient id="r25" gradientUnits="userSpaceOnUse" x1="190.4" x2="1015.7" y1="0" y2="0"><stop offset="0" stop-color="#ffed00"/><stop offset=".0278" stop-color="#ffed00"/><stop offset=".0556" stop-color="#ffed00"/><stop offset=".0833" stop-color="#ffed00"/><stop offset=".1111" stop-color="#ffed00"/><stop offset=".1389" stop-color="#ffed00"/><stop offset=".1667" stop-color="#ffed00"/><stop offset=".1944" stop-color="#ffed00"/><stop offset=".2222" stop-color="#fffc00"/><stop offset=".25" stop-color="#f0fe00"/><stop offset=".2778" stop-color="#e5fe00"/><stop offset=".3056" stop-color="#defe01"/><stop offset=".3333" stop-color="#e2fe00"/><stop offset=".3611" stop-color="#f1fe00"/><stop offset=".3889" stop-color="#fff700"/><stop offset=".4167" stop-color="#ffdc00"/><stop offset=".4444" stop-color="#ffdc00"/><stop offset=".4722" stop-color="#ffdc00"/><stop offset=".5" stop-color="#ffdc00"/><stop offset=".5278" stop-color="#ffdc00"/><stop offset=".5556" stop-color="#ffed00"/><stop offset=".5833" stop-color="#ffed00"/><stop offset=".6111" stop-color="#ffed00"/><stop offset=".6389" stop-color="#ffed00"/><stop offset=".6667" stop-color="#ffed00"/><stop offset=".6944" stop-color="#ffed00"/><stop offset=".7222" stop-color="#ffed00"/><stop offset=".75" stop-color="#ffed00"/><stop offset=".7778" stop-color="#ffed00"/><stop offset=".8056" stop-color="#ffed00"/><stop offset=".8333" stop-color="#ffed00"/><stop offset=".8611" stop-color="#ffed00"/><stop offset=".8889" stop-color="#ffed00"/><stop offset=".9167" stop-color="#ffed00"/><stop offset=".9444" stop-color="#ffed00"/><stop offset=".9722" stop-color="#ffed00"/><stop offset="1" stop-color="#ffed00"/></linearGradient><linearGradient id="r26" gradientUnits="userSpaceOnUse" x1="190.4" x2="1015.7" y1="0" y2="0"><stop offset="0" stop-color="#ffed00"/><stop offset=".0278" stop-color="#ffed00"/><stop offset=".0556" stop-color="#ffed00"/><stop offset=".0833" stop-color="#ffed00"/><stop offset=".1111" stop-color="#ffed00"/><stop offset=".1389" stop-color="#ffed00"/><stop offset=".1667" stop-color="#ffed00"/><stop offset=".1944" stop-color="#ffed00"/><stop offset=".2222" stop-color="#ffed00"/><stop offset=".25" stop-color="#fff300"/><stop offset=".2778" stop-color="#fffe00"/><stop offset=".3056" stop-color="#faff00"/><stop offset=".3333" stop-color="#ffff00"/><stop offset=".3611" stop-color="#fff200"/><stop offset=".3889" stop-color="#ffdc00"/><stop offset=".4167" stop-color="#ffdc00"/><stop offset=".4444" stop-color="#ffdc00"/><stop offset=".4722" stop-color="#ffdc00"/><stop offset=".5" stop-color="#ffdc00"/><stop offset=".5278" stop-color="#ffdc00"/><stop offset=".5556" stop-color="#ffed00"/><stop offset=".5833" stop-color="#ffed00"/><stop offset=".6111" stop-color="#ffed00"/><stop offset=".6389" stop-color="#ffed00"/><stop offset=".6667" stop-color="#ffed00"/><stop offset=".6944" stop-color="#ffed00"/><stop offset=".7222" stop-color="#ffed00"/><stop offset=".75" stop-color="#ffed00"/><stop offset=".7778" stop-color="#ffed00"/><stop offset=".8056" stop-color="#ffed00"/><stop offset=".8333" stop-color="#ffed00"/><stop offset=".8611" stop-color="#ffed00"/><stop offset=".8889" stop-color="#ffed00"/><stop offset=".9167" stop-color="#ffed00"/><stop offset=".9444" stop-color="#ffed00"/><stop offset=".9722" stop-color="#ffed00"/><stop offset="1" stop-color="#ffed00"/></linearGradient><linearGradient id="r27" gradientUnits="userSpaceOnUse" x1="190.4" x2="1015.7" y1="0" y2="0"><stop offset="0" stop-color="#ffed00"/><stop offset=".0278" stop-color="#ffed00"/><stop offset=".0556" stop-color="#ffed00"/><stop offset=".0833" stop-color="#ffed00"/><stop offset=".1111" stop-color="#ffed00"/><stop offset=".1389" stop-color="#ffed00"/><stop offset=".1667" stop-color="#ffed00"/><stop offset=".1944" stop-color="#ffed00"/><stop offset=".2222" stop-color="#ffed00"/><stop offset=".25" stop-color="#ffed00"/><stop offset=".2778" stop-color="#ffed00"/><stop offset=".3056" stop-color="#ffde00"/><stop offset=".3333" stop-color="#ffdd00"/><stop offset=".3611" stop-color="#ffdc00"/><stop offset=".3889" stop-color="#ffdc00"/><stop offset=".4167" stop-color="#ffdc00"/><stop offset=".4444" stop-color="#ffdc00"/><stop offset=".4722" stop-color="#ffdc00"/><stop offset=".5" stop-color="#ffdc00"/><stop offset=".5278" stop-color="#ffdc00"/><stop offset=".5556" stop-color="#ffed00"/><stop offset=".5833" stop-color="#ffed00"/><stop offset=".6111" stop-color="#ffed00"/><stop offset=".6389" stop-color="#ffed00"/><stop offset=".6667" stop-color="#ffed00"/><stop offset=".6944" stop-color="#ffed00"/><stop offset=".7222" stop-color="#ffed00"/><stop offset=".75" stop-color="#ffed00"/><stop offset=".7778" stop-color="#ffed00"/><stop offset=".8056" stop-color="#ffed00"/><stop offset=".8333" stop-color="#ffed00"/><stop offset=".8611" stop-color="#ffed00"/><stop offset=".8889" stop-color="#ffed00"/><stop offset=".9167" stop-color="#ffed00"/><stop offset=".9444" stop-color="#ffed00"/><stop offset=".9722" stop-color="#ffed00"/><stop offset="1" stop-color="#ffed00"/></linearGradient><linearGradient id="r28" gradientUnits="userSpaceOnUse" x1="190.4" x2="1015.7" y1="0" y2="0"><stop offset="0" stop-color="#ffed00"/><stop offset=".0278" stop-color="#ffed00"/><stop offset=".0556" stop-color="#ffed00"/><stop offset=".0833" stop-color="#ffed00"/><stop offset=".1111" stop-color="#ffed00"/><stop offset=".1389" stop-color="#ffed00"/><stop offset=".1667" stop-color="#ffed00"/><stop offset=".1944" stop-color="#ffed00"/><stop offset=".2222" stop-color="#ffed00"/><stop offset=".25" stop-color="#ffed00"/><stop offset=".2778" stop-color="#ffed00"/><stop offset=".3056" stop-color="#ffdc00"/><stop offset=".3333" stop-color="#ffdc00"/><stop offset=".3611" stop-color="#ffdc00"/><stop offset=".3889" stop-color="#ffdc00"/><stop offset=".4167" stop-color="#ffdc00"/><stop offset=".4444" stop-color="#ffdc00"/><stop offset=".4722" stop-color="#ffdc00"/><stop offset=".5" stop-color="#ffdc00"/><stop offset=".5278" stop-color="#ffdc00"/><stop offset=".5556" stop-color="#ffed00"/><stop offset=".5833" stop-color="#ffed00"/><stop offset=".6111" stop-color="#ffed00"/><stop offset=".6389" stop-color="#ffed00"/><stop offset=".6667" stop-color="#ffed00"/><stop offset=".6944" stop-color="#ffed00"/><stop offset=".7222" stop-color="#ffed00"/><stop offset=".75" stop-color="#ffed00"/><stop offset=".7778" stop-color="#ffed00"/><stop offset=".8056" stop-color="#ffed00"/><stop offset=".8333" stop-color="#ffed00"/><stop offset=".8611" stop-color="#ffed00"/><stop offset=".8889" stop-color="#ffed00"/><stop offset=".9167" stop-color="#ffed00"/><stop offset=".9444" stop-color="#ffed00"/><stop offset=".9722" stop-color="#ffed00"/><stop offset="1" stop-color="#ffed00"/></linearGradient><linearGradient id="r29" gradientUnits="userSpaceOnUse" x1="190.4" x2="1015.7" y1="0" y2="0"><stop offset="0" stop-color="#ffed00"/><stop offset=".0278" stop-color="#ffed00"/><stop offset=".0556" stop-color="#ffed00"/><stop offset=".0833" stop-color="#ffed00"/><stop offset=".1111" stop-color="#ffed00"/><stop offset=".1389" stop-color="#ffed00"/><stop offset=".1667" stop-color="#ffed00"/><stop offset=".1944" stop-color="#ffed00"/><stop offset=".2222" stop-color="#ffed00"/><stop offset=".25" stop-color="#ffed00"/><stop offset=".2778" stop-color="#ffed00"/><stop offset=".3056" stop-color="#ffdc00"/><stop offset=".3333" stop-color="#ffdc00"/><stop offset=".3611" stop-color="#ffdc00"/><stop offset=".3889" stop-color="#ffdc00"/><stop offset=".4167" stop-color="#ffdc00"/><stop offset=".4444" stop-color="#ffdc00"/><stop offset=".4722" stop-color="#ffdc00"/><stop offset=".5" stop-color="#ffdc00"/><stop offset=".5278" stop-color="#ffdc00"/><stop offset=".5556" stop-color="#ffed00"/><stop offset=".5833" stop-color="#ffed00"/><stop offset=".6111" stop-color="#ffed00"/><stop offset=".6389" stop-color="#ffed00"/><stop offset=".6667" stop-color="#ffed00"/><stop offset=".6944" stop-color="#ffed00"/><stop offset=".7222" stop-color="#ffed00"/><stop offset=".75" stop-color="#ffed00"/><stop offset=".7778" stop-color="#ffed00"/><stop offset=".8056" stop-color="#ffed00"/><stop offset=".8333" stop-color="#ffed00"/><stop offset=".8611" stop-color="#ffed00"/><stop offset=".8889" stop-color="#ffed00"/><stop offset=".9167" stop-color="#ffed00"/><stop offset=".9444" stop-color="#ffed00"/><stop offset=".9722" stop-color="#ffed00"/><stop offset="1" stop-color="#ffed00"/></linearGradient><linearGradient id="r30" gradientUnits="userSpaceOnUse" x1="190.4" x2="1015.7" y1="0" y2="0"><stop offset="0" stop-color="#ffed00"/><stop offset=".0278" stop-color="#ffed00"/><stop offset=".0556" stop-color="#ffed00"/><stop offset=".0833" stop-color="#ffed00"/><stop offset=".1111" stop-color="#ffed00"/><stop offset=".1389" stop-color="#ffed00"/><stop offset=".1667" stop-color="#ffed00"/><stop offset=".1944" stop-color="#ffed00"/><stop offset=".2222" stop-color="#ffed00"/><stop offset=".25" stop-color="#ffed00"/><stop offset=".2778" stop-color="#ffed00"/><stop offset=".3056" stop-color="#ffdc00"/><stop offset=".3333" stop-color="#ffdc00"/><stop offset=".3611" stop-color="#ffdc00"/><stop offset=".3889" stop-color="#ffdc00"/><stop offset=".4167" stop-color="#ffdc00"/><stop offset=".4444" stop-color="#ffdc00"/><stop offset=".4722" stop-color="#ffdc00"/><stop offset=".5" stop-color="#ffdc00"/><stop offset=".5278" stop-color="#ffdc00"/><stop offset=".5556" stop-color="#ffed00"/><stop offset=".5833" stop-color="#ffed00"/><stop offset=".6111" stop-color="#ffed00"/><stop offset=".6389" stop-color="#ffed00"/><stop offset=".6667" stop-color="#ffed00"/><stop offset=".6944" stop-color="#ffed00"/><stop offset=".7222" stop-color="#ffed00"/><stop offset=".75" stop-color="#ffed00"/><stop offset=".7778" stop-color="#ffed00"/><stop offset=".8056" stop-color="#ffed00"/><stop offset=".8333" stop-color="#ffed00"/><stop offset=".8611" stop-color="#ffed00"/><stop offset=".8889" stop-color="#ffed00"/><stop offset=".9167" stop-color="#ffed00"/><stop offset=".9444" stop-color="#ffed00"/><stop offset=".9722" stop-color="#ffed00"/><stop offset="1" stop-color="#ffed00"/></linearGradient><linearGradient id="r31" gradientUnits="userSpaceOnUse" x1="190.4" x2="1015.7" y1="0" y2="0"><stop offset="0" stop-color="#ffed00"/><stop offset=".0278" stop-color="#ffed00"/><stop offset=".0556" stop-color="#ffed00"/><stop offset=".0833" stop-color="#ffed00"/><stop offset=".1111" stop-color="#ffed00"/><stop offset=".1389" stop-color="#ffed00"/><stop offset=".1667" stop-color="#ffed00"/><stop offset=".1944" stop-color="#ffed00"/><stop offset=".2222" stop-color="#ffed00"/><stop offset=".25" stop-color="#ffed00"/><stop offset=".2778" stop-color="#ffed00"/><stop offset=".3056" stop-color="#ffdc00"/><stop offset=".3333" stop-color="#ffdc00"/><stop offset=".3611" stop-color="#ffdc00"/><stop offset=".3889" stop-color="#ffdc00"/><stop offset=".4167" stop-color="#ffdc00"/><stop offset=".4444" stop-color="#ffdc00"/><stop offset=".4722" stop-color="#ffdc00"/><stop offset=".5" stop-color="#ffdc00"/><stop offset=".5278" stop-color="#ffdc00"/><stop offset=".5556" stop-color="#ffed00"/><stop offset=".5833" stop-color="#ffed00"/><stop offset=".6111" stop-color="#ffed00"/><stop offset=".6389" stop-color="#ffed00"/><stop offset=".6667" stop-color="#fff500"/><stop offset=".6944" stop-color="#fffa00"/><stop offset=".7222" stop-color="#fffa00"/><stop offset=".75" stop-color="#fff500"/><stop offset=".7778" stop-color="#ffef00"/><stop offset=".8056" stop-color="#ffed00"/><stop offset=".8333" stop-color="#ffed00"/><stop offset=".8611" stop-color="#ffed00"/><stop offset=".8889" stop-color="#ffed00"/><stop offset=".9167" stop-color="#ffed00"/><stop offset=".9444" stop-color="#ffed00"/><stop offset=".9722" stop-color="#ffed00"/><stop offset="1" stop-color="#ffed00"/></linearGradient><linearGradient id="r32" gradientUnits="userSpaceOnUse" x1="190.4" x2="1015.7" y1="0" y2="0"><stop offset="0" stop-color="#ffed00"/><stop offset=".0278" stop-color="#ffed00"/><stop offset=".0556" stop-color="#ffed00"/><stop offset=".0833" stop-color="#ffed00"/><stop offset=".1111" stop-color="#ffed00"/><stop offset=".1389" stop-color="#ffed00"/><stop offset=".1667" stop-color="#ffed00"/><stop offset=".1944" stop-color="#ffed00"/><stop offset=".2222" stop-color="#ffed00"/><stop offset=".25" stop-color="#ffed00"/><stop offset=".2778" stop-color="#ffed00"/><stop offset=".3056" stop-color="#ffdc00"/><stop offset=".3333" stop-color="#ffdc00"/><stop offset=".3611" stop-color="#ffdc00"/><stop offset=".3889" stop-color="#ffdc00"/><stop offset=".4167" stop-color="#ffdc00"/><stop offset=".4444" stop-color="#ffdc00"/><stop offset=".4722" stop-color="#ffdc00"/><stop offset=".5" stop-color="#ffdc00"/><stop offset=".5278" stop-color="#ffdc00"/><stop offset=".5556" stop-color="#ffed00"/><stop offset=".5833" stop-color="#ffed00"/><stop offset=".6111" stop-color="#ffee00"/><stop offset=".6389" stop-color="#fffe00"/><stop offset=".6667" stop-color="#ecfe00"/><stop offset=".6944" stop-color="#e6fe00"/><stop offset=".7222" stop-color="#e7fe00"/><stop offset=".75" stop-color="#ecfe00"/><stop offset=".7778" stop-color="#f3ff00"/><stop offset=".8056" stop-color="#faff00"/><stop offset=".8333" stop-color="#fffb00"/><stop offset=".8611" stop-color="#ffef00"/><stop offset=".8889" stop-color="#ffed00"/><stop offset=".9167" stop-color="#ffed00"/><stop offset=".9444" stop-color="#ffed00"/><stop offset=".9722" stop-color="#ffed00"/><stop offset="1" stop-color="#ffed00"/></linearGradient><linearGradient id="r33" gradientUnits="userSpaceOnUse" x1="190.4" x2="1015.7" y1="0" y2="0"><stop offset="0" stop-color="#ffed00"/><stop offset=".0278" stop-color="#ffed00"/><stop offset=".0556" stop-color="#ffed00"/><stop offset=".0833" stop-color="#ffed00"/><stop offset=".1111" stop-color="#ffed00"/><stop offset=".1389" stop-color="#ffed00"/><stop offset=".1667" stop-color="#ffed00"/><stop offset=".1944" stop-color="#ffed00"/><stop offset=".2222" stop-color="#ffed00"/><stop offset=".25" stop-color="#ffed00"/><stop offset=".2778" stop-color="#ffed00"/><stop offset=".3056" stop-color="#ffdc00"/><stop offset=".3333" stop-color="#ffdc00"/><stop offset=".3611" stop-color="#ffdc00"/><stop offset=".3889" stop-color="#ffdc00"/><stop offset=".4167" stop-color="#ffdc00"/><stop offset=".4444" stop-color="#ffdc00"/><stop offset=".4722" stop-color="#ffdc00"/><stop offset=".5" stop-color="#ffdc00"/><stop offset=".5278" stop-color="#ffe700"/><stop offset=".5556" stop-color="#ffed00"/><stop offset=".5833" stop-color="#fff600"/><stop offset=".6111" stop-color="#f5ff00"/><stop offset=".6389" stop-color="#e1fe00"/><stop offset=".6667" stop-color="#cdfd01"/><stop offset=".6944" stop-color="#c7fd01"/><stop offset=".7222" stop-color="#c8fd01"/><stop offset=".75" stop-color="#cdfd01"/><stop offset=".7778" stop-color="#d3fd01"/><stop offset=".8056" stop-color="#dbfe01"/><stop offset=".8333" stop-color="#e5fe00"/><stop offset=".8611" stop-color="#f3ff00"/><stop offset=".8889" stop-color="#fffc00"/><stop offset=".9167" stop-color="#ffef00"/><stop offset=".9444" stop-color="#ffed00"/><stop offset=".9722" stop-color="#ffed00"/><stop offset="1" stop-color="#ffed00"/></linearGradient><linearGradient id="r34" gradientUnits="userSpaceOnUse" x1="190.4" x2="1015.7" y1="0" y2="0"><stop offset="0" stop-color="#fff200"/><stop offset=".0278" stop-color="#ffed00"/><stop offset=".0556" stop-color="#ffed00"/><stop offset=".0833" stop-color="#ffed00"/><stop offset=".1111" stop-color="#ffed00"/><stop offset=".1389" stop-color="#ffed00"/><stop offset=".1667" stop-color="#ffed00"/><stop offset=".1944" stop-color="#ffed00"/><stop offset=".2222" stop-color="#ffed00"/><stop offset=".25" stop-color="#ffed00"/><stop offset=".2778" stop-color="#ffed00"/><stop offset=".3056" stop-color="#ffdc00"/><stop offset=".3333" stop-color="#ffdc00"/><stop offset=".3611" stop-color="#ffdc00"/><stop offset=".3889" stop-color="#ffdc00"/><stop offset=".4167" stop-color="#ffdc00"/><stop offset=".4444" stop-color="#ffdc00"/><stop offset=".4722" stop-color="#ffdc00"/><stop offset=".5" stop-color="#ffe700"/><stop offset=".5278" stop-color="#ffed00"/><stop offset=".5556" stop-color="#fffe00"/><stop offset=".5833" stop-color="#e9fe00"/><stop offset=".6111" stop-color="#d5fd01"/><stop offset=".6389" stop-color="#c2fd01"/><stop offset=".6667" stop-color="#aefc01"/><stop offset=".6944" stop-color="#a9fc01"/><stop offset=".7222" stop-color="#a9fc01"/><stop offset=".75" stop-color="#aefc01"/><stop offset=".7778" stop-color="#b4fc01"/><stop offset=".8056" stop-color="#bbfc01"/><stop offset=".8333" stop-color="#c5fd01"/><stop offset=".8611" stop-color="#d3fd01"/><stop offset=".8889" stop-color="#e1fe00"/><stop offset=".9167" stop-color="#f2fe00"/><stop offset=".9444" stop-color="#fffc00"/><stop offset=".9722" stop-color="#ffed00"/><stop offset="1" stop-color="#ffed00"/></linearGradient><linearGradient id="r35" gradientUnits="userSpaceOnUse" x1="190.4" x2="1015.7" y1="0" y2="0"><stop offset="0" stop-color="#f2fe00"/><stop offset=".0278" stop-color="#fffc00"/><stop offset=".0556" stop-color="#ffed00"/><stop offset=".0833" stop-color="#ffed00"/><stop offset=".1111" stop-color="#ffed00"/><stop offset=".1389" stop-color="#ffed00"/><stop offset=".1667" stop-color="#ffed00"/><stop offset=".1944" stop-color="#ffed00"/><stop offset=".2222" stop-color="#ffed00"/><stop offset=".25" stop-color="#ffed00"/><stop offset=".2778" stop-color="#ffed00"/><stop offset=".3056" stop-color="#ffdc00"/><stop offset=".3333" stop-color="#ffdc00"/><stop offset=".3611" stop-color="#ffdc00"/><stop offset=".3889" stop-color="#ffdc00"/><stop offset=".4167" stop-color="#ffdc00"/><stop offset=".4444" stop-color="#ffdd00"/><stop offset=".4722" stop-color="#ffe600"/><stop offset=".5" stop-color="#ffed00"/><stop offset=".5278" stop-color="#f7ff00"/><stop offset=".5556" stop-color="#defe01"/><stop offset=".5833" stop-color="#c9fd01"/><stop offset=".6111" stop-color="#b5fc01"/><stop offset=".6389" stop-color="#a3fb01"/><stop offset=".6667" stop-color="#8ffb02"/><stop offset=".6944" stop-color="#8afa02"/><stop offset=".7222" stop-color="#8bfa02"/><stop offset=".75" stop-color="#8ffb02"/><stop offset=".7778" stop-color="#95fb02"/><stop offset=".8056" stop-color="#9cfb02"/><stop offset=".8333" stop-color="#a5fb01"/><stop offset=".8611" stop-color="#b2fc01"/><stop offset=".8889" stop-color="#c0fc01"/><stop offset=".9167" stop-color="#d0fd01"/><stop offset=".9444" stop-color="#e1fe00"/><stop offset=".9722" stop-color="#f5ff00"/><stop offset="1" stop-color="#fffd00"/></linearGradient><linearGradient id="r36" gradientUnits="userSpaceOnUse" x1="190.4" x2="1015.7" y1="0" y2="0"><stop offset="0" stop-color="#d7fd01"/><stop offset=".0278" stop-color="#e8fe00"/><stop offset=".0556" stop-color="#feff00"/><stop offset=".0833" stop-color="#ffed00"/><stop offset=".1111" stop-color="#ffed00"/><stop offset=".1389" stop-color="#ffed00"/><stop offset=".1667" stop-color="#ffed00"/><stop offset=".1944" stop-color="#ffed00"/><stop offset=".2222" stop-color="#ffed00"/><stop offset=".25" stop-color="#ffed00"/><stop offset=".2778" stop-color="#ffed00"/><stop offset=".3056" stop-color="#ffdc00"/><stop offset=".3333" stop-color="#ffdc00"/><stop offset=".3611" stop-color="#ffdc00"/><stop offset=".3889" stop-color="#ffdc00"/><stop offset=".4167" stop-color="#ffe300"/><stop offset=".4444" stop-color="#ffec00"/><stop offset=".4722" stop-color="#ffed00"/><stop offset=".5" stop-color="#f7ff00"/><stop offset=".5278" stop-color="#d4fd01"/><stop offset=".5556" stop-color="#bcfc01"/><stop offset=".5833" stop-color="#a8fc01"/><stop offset=".6111" stop-color="#96fb02"/><stop offset=".6389" stop-color="#85fa02"/><stop offset=".6667" stop-color="#70f902"/><stop offset=".6944" stop-color="#6bf902"/><stop offset=".7222" stop-color="#6cf902"/><stop offset=".75" stop-color="#70f902"/><stop offset=".7778" stop-color="#75fa02"/><stop offset=".8056" stop-color="#7dfa02"/><stop offset=".8333" stop-color="#86fa02"/><stop offset=".8611" stop-color="#91fb02"/><stop offset=".8889" stop-color="#9efb02"/><stop offset=".9167" stop-color="#aefc01"/><stop offset=".9444" stop-color="#bffc01"/><stop offset=".9722" stop-color="#d2fd01"/><stop offset="1" stop-color="#dffe01"/></linearGradient><linearGradient id="r37" gradientUnits="userSpaceOnUse" x1="190.4" x2="1015.7" y1="0" y2="0"><stop offset="0" stop-color="#bdfc01"/><stop offset=".0278" stop-color="#cdfd01"/><stop offset=".0556" stop-color="#e3fe00"/><stop offset=".0833" stop-color="#f7ff00"/><stop offset=".1111" stop-color="#fff700"/><stop offset=".1389" stop-color="#ffed00"/><stop offset=".1667" stop-color="#ffed00"/><stop offset=".1944" stop-color="#ffed00"/><stop offset=".2222" stop-color="#ffed00"/><stop offset=".25" stop-color="#ffed00"/><stop offset=".2778" stop-color="#ffed00"/><stop offset=".3056" stop-color="#ffdf00"/><stop offset=".3333" stop-color="#ffdd00"/><stop offset=".3611" stop-color="#ffe000"/><stop offset=".3889" stop-color="#ffeb00"/><stop offset=".4167" stop-color="#ffed00"/><stop offset=".4444" stop-color="#ffed00"/><stop offset=".4722" stop-color="#fffb00"/><stop offset=".5" stop-color="#d3fd01"/><stop offset=".5278" stop-color="#b1fc01"/><stop offset=".5556" stop-color="#9afb02"/><stop offset=".5833" stop-color="#87fa02"/><stop offset=".6111" stop-color="#76fa02"/><stop offset=".6389" stop-color="#66f902"/><stop offset=".6667" stop-color="#51f803"/><stop offset=".6944" stop-color="#4cf803"/><stop offset=".7222" stop-color="#4ef803"/><stop offset=".75" stop-color="#51f803"/><stop offset=".7778" stop-color="#56f803"/><stop offset=".8056" stop-color="#5df903"/><stop offset=".8333" stop-color="#66f902"/><stop offset=".8611" stop-color="#71f902"/><stop offset=".8889" stop-color="#7dfa02"/><stop offset=".9167" stop-color="#8cfa02"/><stop offset=".9444" stop-color="#9cfb02"/><stop offset=".9722" stop-color="#affc01"/><stop offset="1" stop-color="#bcfc01"/></linearGradient><linearGradient id="r38" gradientUnits="userSpaceOnUse" x1="190.4" x2="1015.7" y1="0" y2="0"><stop offset="0" stop-color="#a2fb01"/><stop offset=".0278" stop-color="#b2fc01"/><stop offset=".0556" stop-color="#c7fd01"/><stop offset=".0833" stop-color="#dbfe01"/><stop offset=".1111" stop-color="#ebfe00"/><stop offset=".1389" stop-color="#ffff00"/><stop offset=".1667" stop-color="#fff200"/><stop offset=".1944" stop-color="#ffed00"/><stop offset=".2222" stop-color="#ffed00"/><stop offset=".25" stop-color="#ffed00"/><stop offset=".2778" stop-color="#ffed00"/><stop offset=".3056" stop-color="#ffed00"/><stop offset=".3333" stop-color="#ffed00"/><stop offset=".3611" stop-color="#ffed00"/><stop offset=".3889" stop-color="#ffed00"/><stop offset=".4167" stop-color="#ffef00"/><stop offset=".4444" stop-color="#fffd00"/><stop offset=".4722" stop-color="#ddfe01"/><stop offset=".5" stop-color="#affc01"/><stop offset=".5278" stop-color="#8efb02"/><stop offset=".5556" stop-color="#78fa02"/><stop offset=".5833" stop-color="#66f902"/><stop offset=".6111" stop-color="#56f803"/><stop offset=".6389" stop-color="#47f803"/><stop offset=".6667" stop-color="#32f703"/><stop offset=".6944" stop-color="#2df703"/><stop offset=".7222" stop-color="#2ff703"/><stop offset=".75" stop-color="#32f703"/><stop offset=".7778" stop-color="#36f703"/><stop offset=".8056" stop-color="#3ef703"/><stop offset=".8333" stop-color="#46f803"/><stop offset=".8611" stop-color="#50f803"/><stop offset=".8889" stop-color="#5cf803"/><stop offset=".9167" stop-color="#6af902"/><stop offset=".9444" stop-color="#7afa02"/><stop offset=".9722" stop-color="#8bfa02"/><stop offset="1" stop-color="#99fb02"/></linearGradient><linearGradient id="r39" gradientUnits="userSpaceOnUse" x1="190.4" x2="1015.7" y1="0" y2="0"><stop offset="0" stop-color="#88fa02"/><stop offset=".0278" stop-color="#97fb02"/><stop offset=".0556" stop-color="#abfc01"/><stop offset=".0833" stop-color="#befc01"/><stop offset=".1111" stop-color="#cffd01"/><stop offset=".1389" stop-color="#e2fe00"/><stop offset=".1667" stop-color="#f1fe00"/><stop offset=".1944" stop-color="#feff00"/><stop offset=".2222" stop-color="#fff500"/><stop offset=".25" stop-color="#ffed00"/><stop offset=".2778" stop-color="#ffed00"/><stop offset=".3056" stop-color="#ffed00"/><stop offset=".3333" stop-color="#fff100"/><stop offset=".3611" stop-color="#fff800"/><stop offset=".3889" stop-color="#ffff00"/><stop offset=".4167" stop-color="#f0fe00"/><stop offset=".4444" stop-color="#dafe01"/><stop offset=".4722" stop-color="#b5fc01"/><stop offset=".5" stop-color="#8bfa02"/><stop offset=".5278" stop-color="#6cf902"/><stop offset=".5556" stop-color="#56f803"/><stop offset=".5833" stop-color="#46f803"/><stop offset=".6111" stop-color="#37f703"/><stop offset=".6389" stop-color="#28f603"/><stop offset=".6667" stop-color="#13f604"/><stop offset=".6944" stop-color="#0ef504"/><stop offset=".7222" stop-color="#11f604"/><stop offset=".75" stop-color="#13f604"/><stop offset=".7778" stop-color="#17f604"/><stop offset=".8056" stop-color="#1ef604"/><stop offset=".8333" stop-color="#27f603"/><stop offset=".8611" stop-color="#30f703"/><stop offset=".8889" stop-color="#3af703"/><stop offset=".9167" stop-color="#49f803"/><stop offset=".9444" stop-color="#58f803"/><stop offset=".9722" stop-color="#68f902"/><stop offset="1" stop-color="#76fa02"/></linearGradient><linearGradient id="r40" gradientUnits="userSpaceOnUse" x1="190.4" x2="1015.7" y1="0" y2="0"><stop offset="0" stop-color="#6df902"/><stop offset=".0278" stop-color="#7dfa02"/><stop offset=".0556" stop-color="#90fb02"/><stop offset=".0833" stop-color="#a2fb01"/><stop offset=".1111" stop-color="#b2fc01"/><stop offset=".1389" stop-color="#c5fd01"/><stop offset=".1667" stop-color="#d4fd01"/><stop offset=".1944" stop-color="#e1fe00"/><stop offset=".2222" stop-color="#edfe00"/><stop offset=".25" stop-color="#f9ff00"/><stop offset=".2778" stop-color="#fffc00"/><stop offset=".3056" stop-color="#fffc00"/><stop offset=".3333" stop-color="#f0fe00"/><stop offset=".3611" stop-color="#e6fe00"/><stop offset=".3889" stop-color="#d9fe01"/><stop offset=".4167" stop-color="#c9fd01"/><stop offset=".4444" stop-color="#b1fc01"/><stop offset=".4722" stop-color="#8dfa02"/><stop offset=".5" stop-color="#66f902"/><stop offset=".5278" stop-color="#49f803"/><stop offset=".5556" stop-color="#34f703"/><stop offset=".5833" stop-color="#25f603"/><stop offset=".6111" stop-color="#17f604"/><stop offset=".6389" stop-color="#0af504"/><stop offset=".6667" stop-color="#03f625"/><stop offset=".6944" stop-color="#03f731"/><stop offset=".7222" stop-color="#03f72b"/><stop offset=".75" stop-color="#03f625"/><stop offset=".7778" stop-color="#04f61f"/><stop offset=".8056" stop-color="#04f50e"/><stop offset=".8333" stop-color="#07f504"/><stop offset=".8611" stop-color="#0ff504"/><stop offset=".8889" stop-color="#19f604"/><stop offset=".9167" stop-color="#27f603"/><stop offset=".9444" stop-color="#35f703"/><stop offset=".9722" stop-color="#45f803"/><stop offset="1" stop-color="#53f803"/></linearGradient><linearGradient id="r41" gradientUnits="userSpaceOnUse" x1="190.4" x2="1015.7" y1="0" y2="0"><stop offset="0" stop-color="#53f803"/><stop offset=".0278" stop-color="#62f903"/><stop offset=".0556" stop-color="#74f902"/><stop offset=".0833" stop-color="#86fa02"/><stop offset=".1111" stop-color="#96fb02"/><stop offset=".1389" stop-color="#a8fc01"/><stop offset=".1667" stop-color="#b7fc01"/><stop offset=".1944" stop-color="#c5fd01"/><stop offset=".2222" stop-color="#d0fd01"/><stop offset=".25" stop-color="#dafe01"/><stop offset=".2778" stop-color="#e3fe00"/><stop offset=".3056" stop-color="#e3fe00"/><stop offset=".3333" stop-color="#cffd01"/><stop offset=".3611" stop-color="#c2fd01"/><stop offset=".3889" stop-color="#b4fc01"/><stop offset=".4167" stop-color="#a1fb02"/><stop offset=".4444" stop-color="#87fa02"/><stop offset=".4722" stop-color="#66f902"/><stop offset=".5" stop-color="#42f703"/><stop offset=".5278" stop-color="#26f603"/><stop offset=".5556" stop-color="#12f604"/><stop offset=".5833" stop-color="#04f504"/><stop offset=".6111" stop-color="#04f61e"/><stop offset=".6389" stop-color="#03f738"/><stop offset=".6667" stop-color="#02f967"/><stop offset=".6944" stop-color="#02f973"/><stop offset=".7222" stop-color="#02f96d"/><stop offset=".75" stop-color="#02f967"/><stop offset=".7778" stop-color="#03f961"/><stop offset=".8056" stop-color="#03f850"/><stop offset=".8333" stop-color="#03f740"/><stop offset=".8611" stop-color="#03f730"/><stop offset=".8889" stop-color="#04f61d"/><stop offset=".9167" stop-color="#05f504"/><stop offset=".9444" stop-color="#13f604"/><stop offset=".9722" stop-color="#22f604"/><stop offset="1" stop-color="#30f703"/></linearGradient><linearGradient id="r42" gradientUnits="userSpaceOnUse" x1="190.4" x2="1015.7" y1="0" y2="0"><stop offset="0" stop-color="#38f703"/><stop offset=".0278" stop-color="#47f803"/><stop offset=".0556" stop-color="#58f803"/><stop offset=".0833" stop-color="#69f902"/><stop offset=".1111" stop-color="#79fa02"/><stop offset=".1389" stop-color="#8bfa02"/><stop offset=".1667" stop-color="#9afb02"/><stop offset=".1944" stop-color="#a8fc01"/><stop offset=".2222" stop-color="#b3fc01"/><stop offset=".25" stop-color="#bbfc01"/><stop offset=".2778" stop-color="#c3fd01"/><stop offset=".3056" stop-color="#c3fd01"/><stop offset=".3333" stop-color="#aefc01"/><stop offset=".3611" stop-color="#9ffb02"/><stop offset=".3889" stop-color="#8efb02"/><stop offset=".4167" stop-color="#79fa02"/><stop offset=".4444" stop-color="#5ef903"/><stop offset=".4722" stop-color="#3ef703"/><stop offset=".5" stop-color="#1ef604"/><stop offset=".5278" stop-color="#04f505"/><stop offset=".5556" stop-color="#03f72a"/><stop offset=".5833" stop-color="#03f844"/><stop offset=".6111" stop-color="#03f95e"/><stop offset=".6389" stop-color="#02fa77"/><stop offset=".6667" stop-color="#01fca8"/><stop offset=".6944" stop-color="#01fcb5"/><stop offset=".7222" stop-color="#01fcaf"/><stop offset=".75" stop-color="#01fca9"/><stop offset=".7778" stop-color="#01fba3"/><stop offset=".8056" stop-color="#02fb92"/><stop offset=".8333" stop-color="#02fa82"/><stop offset=".8611" stop-color="#02f972"/><stop offset=".8889" stop-color="#03f95f"/><stop offset=".9167" stop-color="#03f843"/><stop offset=".9444" stop-color="#03f628"/><stop offset=".9722" stop-color="#04f50e"/><stop offset="1" stop-color="#0df504"/></linearGradient><linearGradient id="r43" gradientUnits="userSpaceOnUse" x1="190.4" x2="1015.7" y1="0" y2="0"><stop offset="0" stop-color="#1ef604"/><stop offset=".0278" stop-color="#2cf703"/><stop offset=".0556" stop-color="#3df703"/><stop offset=".0833" stop-color="#4df803"/><stop offset=".1111" stop-color="#5df903"/><stop offset=".1389" stop-color="#6ef902"/><stop offset=".1667" stop-color="#7dfa02"/><stop offset=".1944" stop-color="#8bfa02"/><stop offset=".2222" stop-color="#95fb02"/><stop offset=".25" stop-color="#9dfb02"/><stop offset=".2778" stop-color="#a3fb01"/><stop offset=".3056" stop-color="#a3fb01"/><stop offset=".3333" stop-color="#8dfa02"/><stop offset=".3611" stop-color="#7cfa02"/><stop offset=".3889" stop-color="#68f902"/><stop offset=".4167" stop-color="#51f803"/><stop offset=".4444" stop-color="#35f703"/><stop offset=".4722" stop-color="#16f604"/><stop offset=".5" stop-color="#04f616"/><stop offset=".5278" stop-color="#03f847"/><stop offset=".5556" stop-color="#02f96c"/><stop offset=".5833" stop-color="#02fa85"/><stop offset=".6111" stop-color="#02fb9e"/><stop offset=".6389" stop-color="#01fcb7"/><stop offset=".6667" stop-color="#00feea"/><stop offset=".6944" stop-color="#00fff7"/><stop offset=".7222" stop-color="#00fef1"/><stop offset=".75" stop-color="#00feeb"/><stop offset=".7778" stop-color="#00fee5"/><stop offset=".8056" stop-color="#01fdd4"/><stop offset=".8333" stop-color="#01fdc4"/><stop offset=".8611" stop-color="#01fcb4"/><stop offset=".8889" stop-color="#01fba1"/><stop offset=".9167" stop-color="#02fa85"/><stop offset=".9444" stop-color="#02f969"/><stop offset=".9722" stop-color="#03f84e"/><stop offset="1" stop-color="#03f733"/></linearGradient><linearGradient id="r44" gradientUnits="userSpaceOnUse" x1="190.4" x2="1015.7" y1="0" y2="0"><stop offset="0" stop-color="#04f506"/><stop offset=".0278" stop-color="#12f604"/><stop offset=".0556" stop-color="#21f604"/><stop offset=".0833" stop-color="#31f703"/><stop offset=".1111" stop-color="#40f703"/><stop offset=".1389" stop-color="#51f803"/><stop offset=".1667" stop-color="#60f903"/><stop offset=".1944" stop-color="#6ff902"/><stop offset=".2222" stop-color="#78fa02"/><stop offset=".25" stop-color="#7efa02"/><stop offset=".2778" stop-color="#83fa02"/><stop offset=".3056" stop-color="#83fa02"/><stop offset=".3333" stop-color="#6df902"/><stop offset=".3611" stop-color="#59f803"/><stop offset=".3889" stop-color="#43f703"/><stop offset=".4167" stop-color="#29f603"/><stop offset=".4444" stop-color="#0cf504"/><stop offset=".4722" stop-color="#03f628"/><stop offset=".5" stop-color="#03f858"/><stop offset=".5278" stop-color="#02fa89"/><stop offset=".5556" stop-color="#01fcad"/><stop offset=".5833" stop-color="#01fdc6"/><stop offset=".6111" stop-color="#01fedf"/><stop offset=".6389" stop-color="#00fff7"/><stop offset=".6667" stop-color="#00d6fd"/><stop offset=".6944" stop-color="#00cffc"/><stop offset=".7222" stop-color="#00cbfc"/><stop offset=".75" stop-color="#00cffc"/><stop offset=".7778" stop-color="#00d5fd"/><stop offset=".8056" stop-color="#00ecfe"/><stop offset=".8333" stop-color="#00f9ff"/><stop offset=".8611" stop-color="#00fff6"/><stop offset=".8889" stop-color="#00fee3"/><stop offset=".9167" stop-color="#01fdc6"/><stop offset=".9444" stop-color="#01fca9"/><stop offset=".9722" stop-color="#02fa8e"/><stop offset="1" stop-color="#02f973"/></linearGradient><linearGradient id="r45" gradientUnits="userSpaceOnUse" x1="190.4" x2="1015.7" y1="0" y2="0"><stop offset="0" stop-color="#03f848"/><stop offset=".0278" stop-color="#03f624"/><stop offset=".0556" stop-color="#05f504"/><stop offset=".0833" stop-color="#15f604"/><stop offset=".1111" stop-color="#24f603"/><stop offset=".1389" stop-color="#34f703"/><stop offset=".1667" stop-color="#44f803"/><stop offset=".1944" stop-color="#52f803"/><stop offset=".2222" stop-color="#5bf803"/><stop offset=".25" stop-color="#5ff903"/><stop offset=".2778" stop-color="#63f902"/><stop offset=".3056" stop-color="#63f902"/><stop offset=".3333" stop-color="#4cf803"/><stop offset=".3611" stop-color="#35f703"/><stop offset=".3889" stop-color="#1df604"/><stop offset=".4167" stop-color="#04f508"/><stop offset=".4444" stop-color="#03f739"/><stop offset=".4722" stop-color="#02f96a"/><stop offset=".5" stop-color="#02fb9b"/><stop offset=".5278" stop-color="#01fdcb"/><stop offset=".5556" stop-color="#00feef"/><stop offset=".5833" stop-color="#00faff"/><stop offset=".6111" stop-color="#0099f9"/><stop offset=".6389" stop-color="#0099f9"/><stop offset=".6667" stop-color="#0099f9"/><stop offset=".6944" stop-color="#0099f9"/><stop offset=".7222" stop-color="#0089f8"/><stop offset=".75" stop-color="#008bf8"/><stop offset=".7778" stop-color="#008ef8"/><stop offset=".8056" stop-color="#00b5fb"/><stop offset=".8333" stop-color="#00befb"/><stop offset=".8611" stop-color="#00d6fd"/><stop offset=".8889" stop-color="#00e2fd"/><stop offset=".9167" stop-color="#00faff"/><stop offset=".9444" stop-color="#00feea"/><stop offset=".9722" stop-color="#01fdcd"/><stop offset="1" stop-color="#01fcb2"/></linearGradient><linearGradient id="r46" gradientUnits="userSpaceOnUse" x1="190.4" x2="1015.7" y1="0" y2="0"><stop offset="0" stop-color="#02fa8a"/><stop offset=".0278" stop-color="#02f964"/><stop offset=".0556" stop-color="#03f740"/><stop offset=".0833" stop-color="#04f61d"/><stop offset=".1111" stop-color="#08f504"/><stop offset=".1389" stop-color="#17f604"/><stop offset=".1667" stop-color="#27f603"/><stop offset=".1944" stop-color="#36f703"/><stop offset=".2222" stop-color="#3ef703"/><stop offset=".25" stop-color="#41f703"/><stop offset=".2778" stop-color="#43f803"/><stop offset=".3056" stop-color="#43f803"/><stop offset=".3333" stop-color="#2bf703"/><stop offset=".3611" stop-color="#12f604"/><stop offset=".3889" stop-color="#04f619"/><stop offset=".4167" stop-color="#03f84a"/><stop offset=".4444" stop-color="#02fa7b"/><stop offset=".4722" stop-color="#01fcac"/><stop offset=".5" stop-color="#01fedd"/><stop offset=".5278" stop-color="#00f6fe"/><stop offset=".5556" stop-color="#00c2fb"/><stop offset=".5833" stop-color="#00d1fc"/><stop offset=".6111" stop-color="#0099f9"/><stop offset=".6389" stop-color="#0099f9"/><stop offset=".6667" stop-color="#0099f9"/><stop offset=".6944" stop-color="#0099f9"/><stop offset=".7222" stop-color="#0047f4"/><stop offset=".75" stop-color="#0047f4"/><stop offset=".7778" stop-color="#0047f4"/><stop offset=".8056" stop-color="#007ef7"/><stop offset=".8333" stop-color="#0082f8"/><stop offset=".8611" stop-color="#00a6fa"/><stop offset=".8889" stop-color="#00aefa"/><stop offset=".9167" stop-color="#00cdfc"/><stop offset=".9444" stop-color="#00e5fd"/><stop offset=".9722" stop-color="#00f7ff"/><stop offset="1" stop-color="#00fef1"/></linearGradient><linearGradient id="r47" gradientUnits="userSpaceOnUse" x1="190.4" x2="1015.7" y1="0" y2="0"><stop offset="0" stop-color="#01fdcc"/><stop offset=".0278" stop-color="#01fba5"/><stop offset=".0556" stop-color="#02fa7f"/><stop offset=".0833" stop-color="#03f85b"/><stop offset=".1111" stop-color="#03f73a"/><stop offset=".1389" stop-color="#04f619"/><stop offset=".1667" stop-color="#0af504"/><stop offset=".1944" stop-color="#19f604"/><stop offset=".2222" stop-color="#21f604"/><stop offset=".25" stop-color="#22f604"/><stop offset=".2778" stop-color="#23f603"/><stop offset=".3056" stop-color="#23f603"/><stop offset=".3333" stop-color="#0af504"/><stop offset=".3611" stop-color="#03f62a"/><stop offset=".3889" stop-color="#03f859"/><stop offset=".4167" stop-color="#02fa8b"/><stop offset=".4444" stop-color="#01fcbe"/><stop offset=".4722" stop-color="#00feee"/><stop offset=".5" stop-color="#00d5fd"/><stop offset=".5278" stop-color="#00cefc"/><stop offset=".5556" stop-color="#00c2fb"/><stop offset=".5833" stop-color="#00a9fa"/><stop offset=".6111" stop-color="#0099f9"/><stop offset=".6389" stop-color="#0099f9"/><stop offset=".6667" stop-color="#0099f9"/><stop offset=".6944" stop-color="#0099f9"/><stop offset=".7222" stop-color="#0047f4"/><stop offset=".75" stop-color="#0047f4"/><stop offset=".7778" stop-color="#0047f4"/><stop offset=".8056" stop-color="#0047f4"/><stop offset=".8333" stop-color="#0047f4"/><stop offset=".8611" stop-color="#0077f7"/><stop offset=".8889" stop-color="#007bf7"/><stop offset=".9167" stop-color="#00a0f9"/><stop offset=".9444" stop-color="#00bdfb"/><stop offset=".9722" stop-color="#00d4fc"/><stop offset="1" stop-color="#00e1fd"/></linearGradient><linearGradient id="r48" gradientUnits="userSpaceOnUse" x1="190.4" x2="1015.7" y1="0" y2="0"><stop offset="0" stop-color="#00f3fe"/><stop offset=".0278" stop-color="#00fee5"/><stop offset=".0556" stop-color="#01fcbe"/><stop offset=".0833" stop-color="#02fb99"/><stop offset=".1111" stop-color="#02fa77"/><stop offset=".1389" stop-color="#03f858"/><stop offset=".1667" stop-color="#03f737"/><stop offset=".1944" stop-color="#04f615"/><stop offset=".2222" stop-color="#04f505"/><stop offset=".25" stop-color="#04f505"/><stop offset=".2778" stop-color="#04f505"/><stop offset=".3056" stop-color="#04f505"/><stop offset=".3333" stop-color="#03f736"/><stop offset=".3611" stop-color="#02f968"/><stop offset=".3889" stop-color="#02fb99"/><stop offset=".4167" stop-color="#01fdcc"/><stop offset=".4444" stop-color="#00feff"/><stop offset=".4722" stop-color="#00d4fc"/><stop offset=".5" stop-color="#00d5fd"/><stop offset=".5278" stop-color="#00a5fa"/><stop offset=".5556" stop-color="#00c2fb"/><stop offset=".5833" stop-color="#0080f8"/><stop offset=".6111" stop-color="#0099f9"/><stop offset=".6389" stop-color="#0099f9"/><stop offset=".6667" stop-color="#0099f9"/><stop offset=".6944" stop-color="#0099f9"/><stop offset=".7222" stop-color="#0047f4"/><stop offset=".75" stop-color="#0047f4"/><stop offset=".7778" stop-color="#0047f4"/><stop offset=".8056" stop-color="#0047f4"/><stop offset=".8333" stop-color="#0047f4"/><stop offset=".8611" stop-color="#0047f4"/><stop offset=".8889" stop-color="#0047f4"/><stop offset=".9167" stop-color="#0074f7"/><stop offset=".9444" stop-color="#0096f9"/><stop offset=".9722" stop-color="#00b1fa"/><stop offset="1" stop-color="#00bbfb"/></linearGradient><linearGradient id="r49" gradientUnits="userSpaceOnUse" x1="190.4" x2="1015.7" y1="0" y2="0"><stop offset="0" stop-color="#00bffb"/><stop offset=".0278" stop-color="#00e3fd"/><stop offset=".0556" stop-color="#00fffd"/><stop offset=".0833" stop-color="#01fdd6"/><stop offset=".1111" stop-color="#01fcb4"/><stop offset=".1389" stop-color="#02fb96"/><stop offset=".1667" stop-color="#02fa77"/><stop offset=".1944" stop-color="#03f857"/><stop offset=".2222" stop-color="#03f847"/><stop offset=".25" stop-color="#03f847"/><stop offset=".2778" stop-color="#03f847"/><stop offset=".3056" stop-color="#03f847"/><stop offset=".3333" stop-color="#02f974"/><stop offset=".3611" stop-color="#01fba6"/><stop offset=".3889" stop-color="#01fdd8"/><stop offset=".4167" stop-color="#00f7ff"/><stop offset=".4444" stop-color="#00d3fc"/><stop offset=".4722" stop-color="#00d4fc"/><stop offset=".5" stop-color="#00d5fd"/><stop offset=".5278" stop-color="#007df7"/><stop offset=".5556" stop-color="#00c2fb"/><stop offset=".5833" stop-color="#0058f5"/><stop offset=".6111" stop-color="#0099f9"/><stop offset=".6389" stop-color="#0099f9"/><stop offset=".6667" stop-color="#0099f9"/><stop offset=".6944" stop-color="#0099f9"/><stop offset=".7222" stop-color="#0047f4"/><stop offset=".75" stop-color="#0047f4"/><stop offset=".7778" stop-color="#0047f4"/><stop offset=".8056" stop-color="#0047f4"/><stop offset=".8333" stop-color="#0047f4"/><stop offset=".8611" stop-color="#0047f4"/><stop offset=".8889" stop-color="#0047f4"/><stop offset=".9167" stop-color="#0047f4"/><stop offset=".9444" stop-color="#006ff7"/><stop offset=".9722" stop-color="#008ef8"/><stop offset="1" stop-color="#0094f9"/></linearGradient><linearGradient id="r50" gradientUnits="userSpaceOnUse" x1="190.4" x2="1015.7" y1="0" y2="0"><stop offset="0" stop-color="#008bf8"/><stop offset=".0278" stop-color="#00b4fb"/><stop offset=".0556" stop-color="#00d6fd"/><stop offset=".0833" stop-color="#00eefe"/><stop offset=".1111" stop-color="#00fef1"/><stop offset=".1389" stop-color="#01fdd5"/><stop offset=".1667" stop-color="#01fcb7"/><stop offset=".1944" stop-color="#02fb98"/><stop offset=".2222" stop-color="#02fa89"/><stop offset=".25" stop-color="#02fa89"/><stop offset=".2778" stop-color="#02fa89"/><stop offset=".3056" stop-color="#02fa89"/><stop offset=".3333" stop-color="#01fcb2"/><stop offset=".3611" stop-color="#00fee4"/><stop offset=".3889" stop-color="#00f2fe"/><stop offset=".4167" stop-color="#00d3fc"/><stop offset=".4444" stop-color="#00d3fc"/><stop offset=".4722" stop-color="#00d4fc"/><stop offset=".5" stop-color="#00d5fd"/><stop offset=".5278" stop-color="#0054f5"/><stop offset=".5556" stop-color="#00c2fb"/><stop offset=".5833" stop-color="#0051f5"/><stop offset=".6111" stop-color="#0099f9"/><stop offset=".6389" stop-color="#0099f9"/><stop offset=".6667" stop-color="#0099f9"/><stop offset=".6944" stop-color="#0099f9"/><stop offset=".7222" stop-color="#0047f4"/><stop offset=".75" stop-color="#0047f4"/><stop offset=".7778" stop-color="#0047f4"/><stop offset=".8056" stop-color="#0047f4"/><stop offset=".8333" stop-color="#0047f4"/><stop offset=".8611" stop-color="#0047f4"/><stop offset=".8889" stop-color="#0047f4"/><stop offset=".9167" stop-color="#0047f4"/><stop offset=".9444" stop-color="#0047f4"/><stop offset=".9722" stop-color="#006bf6"/><stop offset="1" stop-color="#006ef6"/></linearGradient><linearGradient id="r51" gradientUnits="userSpaceOnUse" x1="190.4" x2="1015.7" y1="0" y2="0"><stop offset="0" stop-color="#0057f5"/><stop offset=".0278" stop-color="#0085f8"/><stop offset=".0556" stop-color="#00acfa"/><stop offset=".0833" stop-color="#00bcfb"/><stop offset=".1111" stop-color="#00dcfd"/><stop offset=".1389" stop-color="#00effe"/><stop offset=".1667" stop-color="#00fff7"/><stop offset=".1944" stop-color="#01fed9"/><stop offset=".2222" stop-color="#01fdcb"/><stop offset=".25" stop-color="#01fdcb"/><stop offset=".2778" stop-color="#01fdcb"/><stop offset=".3056" stop-color="#01fdcb"/><stop offset=".3333" stop-color="#00feef"/><stop offset=".3611" stop-color="#00d1fc"/><stop offset=".3889" stop-color="#00d2fc"/><stop offset=".4167" stop-color="#00d3fc"/><stop offset=".4444" stop-color="#00d3fc"/><stop offset=".4722" stop-color="#00d4fc"/><stop offset=".5" stop-color="#00d5fd"/><stop offset=".5278" stop-color="#0051f5"/><stop offset=".5556" stop-color="#00c2fb"/><stop offset=".5833" stop-color="#0051f5"/><stop offset=".6111" stop-color="#0099f9"/><stop offset=".6389" stop-color="#0099f9"/><stop offset=".6667" stop-color="#0099f9"/><stop offset=".6944" stop-color="#0099f9"/><stop offset=".7222" stop-color="#0047f4"/><stop offset=".75" stop-color="#0047f4"/><stop offset=".7778" stop-color="#0047f4"/><stop offset=".8056" stop-color="#0047f4"/><stop offset=".8333" stop-color="#0047f4"/><stop offset=".8611" stop-color="#0047f4"/><stop offset=".8889" stop-color="#0047f4"/><stop offset=".9167" stop-color="#0047f4"/><stop offset=".9444" stop-color="#0047f4"/><stop offset=".9722" stop-color="#0047f4"/><stop offset="1" stop-color="#0047f4"/></linearGradient><linearGradient id="r52" gradientUnits="userSpaceOnUse" x1="190.4" x2="1015.7" y1="0" y2="0"><stop offset="0" stop-color="#0057f5"/><stop offset=".0278" stop-color="#0057f5"/><stop offset=".0556" stop-color="#0081f8"/><stop offset=".0833" stop-color="#0089f8"/><stop offset=".1111" stop-color="#00b0fa"/><stop offset=".1389" stop-color="#00bcfb"/><stop offset=".1667" stop-color="#00d9fd"/><stop offset=".1944" stop-color="#00eafe"/><stop offset=".2222" stop-color="#00f4fe"/><stop offset=".25" stop-color="#00f3fe"/><stop offset=".2778" stop-color="#00f3fe"/><stop offset=".3056" stop-color="#00f1fe"/><stop offset=".3333" stop-color="#00bcfb"/><stop offset=".3611" stop-color="#00d1fc"/><stop offset=".3889" stop-color="#00d2fc"/><stop offset=".4167" stop-color="#00d3fc"/><stop offset=".4444" stop-color="#00d3fc"/><stop offset=".4722" stop-color="#00d4fc"/><stop offset=".5" stop-color="#00d5fd"/><stop offset=".5278" stop-color="#0051f5"/><stop offset=".5556" stop-color="#00c2fb"/><stop offset=".5833" stop-color="#0051f5"/><stop offset=".6111" stop-color="#0099f9"/><stop offset=".6389" stop-color="#0099f9"/><stop offset=".6667" stop-color="#0099f9"/><stop offset=".6944" stop-color="#0099f9"/><stop offset=".7222" stop-color="#0047f4"/><stop offset=".75" stop-color="#0047f4"/><stop offset=".7778" stop-color="#0047f4"/><stop offset=".8056" stop-color="#0047f4"/><stop offset=".8333" stop-color="#0047f4"/><stop offset=".8611" stop-color="#0047f4"/><stop offset=".8889" stop-color="#0047f4"/><stop offset=".9167" stop-color="#0047f4"/><stop offset=".9444" stop-color="#0047f4"/><stop offset=".9722" stop-color="#0047f4"/><stop offset="1" stop-color="#0047f4"/></linearGradient><linearGradient id="r53" gradientUnits="userSpaceOnUse" x1="190.4" x2="1015.7" y1="0" y2="0"><stop offset="0" stop-color="#0057f5"/><stop offset=".0278" stop-color="#0057f5"/><stop offset=".0556" stop-color="#0057f5"/><stop offset=".0833" stop-color="#0057f5"/><stop offset=".1111" stop-color="#0083f8"/><stop offset=".1389" stop-color="#0089f8"/><stop offset=".1667" stop-color="#00aefa"/><stop offset=".1944" stop-color="#00b9fb"/><stop offset=".2222" stop-color="#00bffb"/><stop offset=".25" stop-color="#00bcfb"/><stop offset=".2778" stop-color="#00bcfb"/><stop offset=".3056" stop-color="#00b1fa"/><stop offset=".3333" stop-color="#00bcfb"/><stop offset=".3611" stop-color="#00d1fc"/><stop offset=".3889" stop-color="#00d2fc"/><stop offset=".4167" stop-color="#00d3fc"/><stop offset=".4444" stop-color="#00d3fc"/><stop offset=".4722" stop-color="#00d4fc"/><stop offset=".5" stop-color="#00d5fd"/><stop offset=".5278" stop-color="#0051f5"/><stop offset=".5556" stop-color="#00c2fb"/><stop offset=".5833" stop-color="#0051f5"/><stop offset=".6111" stop-color="#0099f9"/><stop offset=".6389" stop-color="#0099f9"/><stop offset=".6667" stop-color="#0099f9"/><stop offset=".6944" stop-color="#0099f9"/><stop offset=".7222" stop-color="#0047f4"/><stop offset=".75" stop-color="#0047f4"/><stop offset=".7778" stop-color="#0047f4"/><stop offset=".8056" stop-color="#0047f4"/><stop offset=".8333" stop-color="#0047f4"/><stop offset=".8611" stop-color="#0047f4"/><stop offset=".8889" stop-color="#0047f4"/><stop offset=".9167" stop-color="#0047f4"/><stop offset=".9444" stop-color="#0047f4"/><stop offset=".9722" stop-color="#0047f4"/><stop offset="1" stop-color="#0047f4"/></linearGradient><linearGradient id="r54" gradientUnits="userSpaceOnUse" x1="190.4" x2="1015.7" y1="0" y2="0"><stop offset="0" stop-color="#0057f5"/><stop offset=".0278" stop-color="#0057f5"/><stop offset=".0556" stop-color="#0057f5"/><stop offset=".0833" stop-color="#0057f5"/><stop offset=".1111" stop-color="#0057f5"/><stop offset=".1389" stop-color="#0057f5"/><stop offset=".1667" stop-color="#0082f8"/><stop offset=".1944" stop-color="#0088f8"/><stop offset=".2222" stop-color="#008bf8"/><stop offset=".25" stop-color="#0085f8"/><stop offset=".2778" stop-color="#0085f8"/><stop offset=".3056" stop-color="#00b1fa"/><stop offset=".3333" stop-color="#00bcfb"/><stop offset=".3611" stop-color="#00d1fc"/><stop offset=".3889" stop-color="#00d2fc"/><stop offset=".4167" stop-color="#00d3fc"/><stop offset=".4444" stop-color="#00d3fc"/><stop offset=".4722" stop-color="#00d4fc"/><stop offset=".5" stop-color="#00d5fd"/><stop offset=".5278" stop-color="#0051f5"/><stop offset=".5556" stop-color="#00c2fb"/><stop offset=".5833" stop-color="#0051f5"/><stop offset=".6111" stop-color="#0099f9"/><stop offset=".6389" stop-color="#0099f9"/><stop offset=".6667" stop-color="#0099f9"/><stop offset=".6944" stop-color="#0099f9"/><stop offset=".7222" stop-color="#0047f4"/><stop offset=".75" stop-color="#0047f4"/><stop offset=".7778" stop-color="#0047f4"/><stop offset=".8056" stop-color="#0047f4"/><stop offset=".8333" stop-color="#0047f4"/><stop offset=".8611" stop-color="#0047f4"/><stop offset=".8889" stop-color="#0047f4"/><stop offset=".9167" stop-color="#0047f4"/><stop offset=".9444" stop-color="#0047f4"/><stop offset=".9722" stop-color="#0047f4"/><stop offset="1" stop-color="#0047f4"/></linearGradient><linearGradient id="r55" gradientUnits="userSpaceOnUse" x1="190.4" x2="1015.7" y1="0" y2="0"><stop offset="0" stop-color="#0057f5"/><stop offset=".0278" stop-color="#0057f5"/><stop offset=".0556" stop-color="#0057f5"/><stop offset=".0833" stop-color="#0057f5"/><stop offset=".1111" stop-color="#0057f5"/><stop offset=".1389" stop-color="#0057f5"/><stop offset=".1667" stop-color="#0057f5"/><stop offset=".1944" stop-color="#0057f5"/><stop offset=".2222" stop-color="#0057f5"/><stop offset=".25" stop-color="#0085f8"/><stop offset=".2778" stop-color="#0085f8"/><stop offset=".3056" stop-color="#00b1fa"/><stop offset=".3333" stop-color="#00bcfb"/><stop offset=".3611" stop-color="#00d1fc"/><stop offset=".3889" stop-color="#00d2fc"/><stop offset=".4167" stop-color="#00d3fc"/><stop offset=".4444" stop-color="#00d3fc"/><stop offset=".4722" stop-color="#00d4fc"/><stop offset=".5" stop-color="#00d5fd"/><stop offset=".5278" stop-color="#0051f5"/><stop offset=".5556" stop-color="#00c2fb"/><stop offset=".5833" stop-color="#0051f5"/><stop offset=".6111" stop-color="#0099f9"/><stop offset=".6389" stop-color="#0099f9"/><stop offset=".6667" stop-color="#0099f9"/><stop offset=".6944" stop-color="#0099f9"/><stop offset=".7222" stop-color="#0047f4"/><stop offset=".75" stop-color="#0047f4"/><stop offset=".7778" stop-color="#0047f4"/><stop offset=".8056" stop-color="#0047f4"/><stop offset=".8333" stop-color="#0047f4"/><stop offset=".8611" stop-color="#0047f4"/><stop offset=".8889" stop-color="#0047f4"/><stop offset=".9167" stop-color="#0047f4"/><stop offset=".9444" stop-color="#0047f4"/><stop offset=".9722" stop-color="#0047f4"/><stop offset="1" stop-color="#0047f4"/></linearGradient><linearGradient id="cb" x1="0" x2="0" y1="0" y2="1"><stop offset="0" stop-color="#ff0000"/><stop offset=".25" stop-color="#ffff00"/><stop offset=".5" stop-color="#04f504"/><stop offset=".75" stop-color="#00ffff"/><stop offset="1" stop-color="#0000f0"/></linearGradient></defs><g clip-path="url(#bc)" shape-rendering="crispEdges"><rect x="190.4" y="250.00" width="825.3" height="7.27" fill="url(#r0)"/><rect x="190.4" y="256.97" width="825.3" height="7.27" fill="url(#r1)"/><rect x="190.4" y="263.94" width="825.3" height="7.27" fill="url(#r2)"/><rect x="190.4" y="270.91" width="825.3" height="7.27" fill="url(#r3)"/><rect x="190.4" y="277.88" width="825.3" height="7.27" fill="url(#r4)"/><rect x="190.4" y="284.86" width="825.3" height="7.27" fill="url(#r5)"/><rect x="190.4" y="291.83" width="825.3" height="7.27" fill="url(#r6)"/><rect x="190.4" y="298.80" width="825.3" height="7.27" fill="url(#r7)"/><rect x="190.4" y="305.77" width="825.3" height="7.27" fill="url(#r8)"/><rect x="190.4" y="312.74" width="825.3" height="7.27" fill="url(#r9)"/><rect x="190.4" y="319.71" width="825.3" height="7.27" fill="url(#r10)"/><rect x="190.4" y="326.68" width="825.3" height="7.27" fill="url(#r11)"/><rect x="190.4" y="333.65" width="825.3" height="7.27" fill="url(#r12)"/><rect x="190.4" y="340.62" width="825.3" height="7.27" fill="url(#r13)"/><rect x="190.4" y="347.59" width="825.3" height="7.27" fill="url(#r14)"/><rect x="190.4" y="354.56" width="825.3" height="7.27" fill="url(#r15)"/><rect x="190.4" y="361.54" width="825.3" height="7.27" fill="url(#r16)"/><rect x="190.4" y="368.51" width="825.3" height="7.27" fill="url(#r17)"/><rect x="190.4" y="375.48" width="825.3" height="7.27" fill="url(#r18)"/><rect x="190.4" y="382.45" width="825.3" height="7.27" fill="url(#r19)"/><rect x="190.4" y="389.42" width="825.3" height="7.27" fill="url(#r20)"/><rect x="190.4" y="396.39" width="825.3" height="7.27" fill="url(#r21)"/><rect x="190.4" y="403.36" width="825.3" height="7.27" fill="url(#r22)"/><rect x="190.4" y="410.33" width="825.3" height="7.27" fill="url(#r23)"/><rect x="190.4" y="417.30" width="825.3" height="7.27" fill="url(#r24)"/><rect x="190.4" y="424.27" width="825.3" height="7.27" fill="url(#r25)"/><rect x="190.4" y="431.25" width="825.3" height="7.27" fill="url(#r26)"/><rect x="190.4" y="438.22" width="825.3" height="7.27" fill="url(#r27)"/><rect x="190.4" y="445.19" width="825.3" height="7.27" fill="url(#r28)"/><rect x="190.4" y="452.16" width="825.3" height="7.27" fill="url(#r29)"/><rect x="190.4" y="459.13" width="825.3" height="7.27" fill="url(#r30)"/><rect x="190.4" y="466.10" width="825.3" height="7.27" fill="url(#r31)"/><rect x="190.4" y="473.07" width="825.3" height="7.27" fill="url(#r32)"/><rect x="190.4" y="480.04" width="825.3" height="7.27" fill="url(#r33)"/><rect x="190.4" y="487.01" width="825.3" height="7.27" fill="url(#r34)"/><rect x="190.4" y="493.99" width="825.3" height="7.27" fill="url(#r35)"/><rect x="190.4" y="500.96" width="825.3" height="7.27" fill="url(#r36)"/><rect x="190.4" y="507.93" width="825.3" height="7.27" fill="url(#r37)"/><rect x="190.4" y="514.90" width="825.3" height="7.27" fill="url(#r38)"/><rect x="190.4" y="521.87" width="825.3" height="7.27" fill="url(#r39)"/><rect x="190.4" y="528.84" width="825.3" height="7.27" fill="url(#r40)"/><rect x="190.4" y="535.81" width="825.3" height="7.27" fill="url(#r41)"/><rect x="190.4" y="542.78" width="825.3" height="7.27" fill="url(#r42)"/><rect x="190.4" y="549.75" width="825.3" height="7.27" fill="url(#r43)"/><rect x="190.4" y="556.72" width="825.3" height="7.27" fill="url(#r44)"/><rect x="190.4" y="563.69" width="825.3" height="7.27" fill="url(#r45)"/><rect x="190.4" y="570.67" width="825.3" height="7.27" fill="url(#r46)"/><rect x="190.4" y="577.64" width="825.3" height="7.27" fill="url(#r47)"/><rect x="190.4" y="584.61" width="825.3" height="7.27" fill="url(#r48)"/><rect x="190.4" y="591.58" width="825.3" height="7.27" fill="url(#r49)"/><rect x="190.4" y="598.55" width="825.3" height="7.27" fill="url(#r50)"/><rect x="190.4" y="605.52" width="825.3" height="7.27" fill="url(#r51)"/><rect x="190.4" y="612.49" width="825.3" height="7.27" fill="url(#r52)"/><rect x="190.4" y="619.46" width="825.3" height="7.27" fill="url(#r53)"/><rect x="190.4" y="626.43" width="825.3" height="7.27" fill="url(#r54)"/><rect x="190.4" y="633.40" width="825.3" height="7.27" fill="url(#r55)"/></g><path d="M320.5 290.0 318.8 281.8 316.2 275.2 310.1 268.3 306.6 263.0 304.0 257.0 299.7 254.0 296.2 249.1 292.7 244.8 285.7 240.4 278.8 238.5 270.1 236.8 264.9 235.9 261.4 238.3 259.7 234.9 256.9 234.9 254.3 238.3 252.5 242.9 247.3 247.0 240.3 251.6 233.4 255.0 225.6 258.5 229.9 255.0 236.9 250.5 242.1 245.3 240.2 243.6 236.0 243.7 232.5 240.3 229.7 241.1 225.6 236.8 222.8 232.4 225.6 229.0 232.5 227.2 234.3 223.7 231.5 222.7 225.6 222.7 219.3 220.1 222.1 217.5 228.2 216.8 230.8 215.0 225.6 212.3 222.1 209.8 225.6 206.3 233.4 202.9 243.8 199.7 254.3 201.1 264.7 202.9 275.1 204.1 285.6 205.8 291.7 208.3 296.0 205.8 303.0 204.6 309.9 202.7 313.4 205.1 317.7 205.5 320.3 204.1 327.3 204.6 334.3 205.5M334.3 205.5 337.9 207.9 341.0 210.5 345.4 211.6 351.5 210.7 355.3 211.6 357.9 209.0 362.1 207.2 369.0 209.0 372.5 211.6 376.9 210.7 375.1 207.2 378.6 205.5 382.1 207.2 383.0 211.6 386.4 209.0 385.6 203.7 383.8 198.5 386.4 194.2 388.3 191.6 390.8 194.2 389.9 198.5 393.4 202.0 396.9 204.6 399.5 209.0 403.8 212.4 408.0 211.6M317.6 191.4 320.2 189.3 327.1 188.8 333.2 190.5 337.6 192.3 333.2 194.0 329.7 197.5 325.4 199.7 320.2 200.1 317.0 196.6ZM331.5 197.5 337.6 194.3 345.4 194.0 351.5 194.9 357.6 192.3 361.9 192.3 363.7 196.6 368.0 200.1 370.6 203.6 367.1 206.2 361.9 205.3 357.6 207.9 351.5 207.0 347.1 204.4 341.9 203.6 335.8 201.8 332.3 200.1ZM318.4 182.7 325.4 179.6 334.1 178.3 337.6 179.6 335.0 181.8 341.0 181.3 348.9 180.6 351.5 182.3 359.3 184.4 360.2 186.2 353.2 186.5 347.1 185.8 342.8 187.9 337.6 186.2 333.2 185.3 329.7 182.7 322.8 184.4ZM339.0 176.1 344.5 174.3 352.3 175.0 350.6 177.1 343.7 177.8ZM359.3 171.9 367.1 171.4 373.2 173.1 375.0 176.6 370.6 177.1 365.4 175.4 361.0 174.0ZM361.9 181.8 368.9 181.0 377.6 181.3 379.3 185.3 372.3 187.0 365.4 186.2 362.8 184.4ZM368.9 192.3 377.6 190.5 381.9 193.1 380.2 197.5 375.0 198.7 370.6 195.7ZM386.3 166.2 393.2 164.4 401.9 167.0 405.4 171.4 400.2 174.9 390.6 174.3 388.0 170.5ZM382.8 179.6 388.0 178.3 389.7 181.0 384.5 182.3ZM316.7 217.1 325.4 214.9 332.3 215.7 331.5 219.6 325.4 221.8 321.9 219.2ZM335.8 234.5 342.8 230.5 352.3 229.1 349.7 232.3 343.7 234.9 339.3 236.3ZM348.3 242.7 353.2 240.4 356.3 241.5 351.5 243.9ZM367.1 246.7 369.2 246.2 368.9 250.9 367.1 251.6ZM297.9 259.6 300.2 260.1 302.4 266.2 300.7 266.5ZM309.7 271.4 315.8 273.1 321.9 279.2 322.3 282.2 317.6 278.3 311.8 274.0ZM248.3 247.4 252.7 245.3 254.1 247.9 250.3 250.2ZM215.0 263.6 221.0 261.0M209.2 226.5 215.0 228.3M219.7 238.3 223.7 239.0M190.1 199.2 195.0 201.0M408.0 255.7 398.4 252.3 390.6 247.9 386.3 241.8 385.9 236.6 389.7 231.4 396.7 226.2 403.7 221.0 405.4 215.7 408.0 215.7M372.3 263.0 376.7 261.0 381.4 266.2 381.9 272.3 377.6 273.1 375.0 267.9ZM393.2 283.9 399.3 279.2 405.4 277.5 408.0 280.1M436.5 174.9 443.5 171.4 452.2 167.9 460.0 164.4 462.6 161.8 473.0 161.5 485.2 161.0 497.4 158.3 511.3 157.0 525.2 156.3 539.1 156.6 549.6 158.7 556.5 160.1 553.0 161.5 544.3 161.8 535.7 161.8 547.8 163.6 551.3 165.3 560.0 163.6 575.7 164.4 572.2 167.0 565.2 168.8 560.0 172.3 558.3 176.6 560.9 179.2 554.8 181.0 560.0 185.3 557.4 189.7 553.0 192.3 554.8 195.7 549.6 198.3 551.3 202.7 544.3 203.6 547.8 204.4 542.6 207.9 533.9 210.5 527.0 213.1 520.0 217.5 511.3 220.1 508.7 224.4 506.1 231.4 503.5 238.3 500.9 239.2 494.8 235.7 489.6 232.3 485.2 226.2 481.7 221.0 480.0 215.7 480.9 210.5 484.3 207.9 486.1 203.6 483.5 201.0 479.1 200.1 476.5 196.6 474.8 192.3 471.3 187.0 466.1 184.4 459.1 182.7 450.4 182.7 443.5 181.0 440.0 178.3 445.2 179.2 441.7 176.6ZM477.4 202.7 481.7 201.8 486.1 204.4 485.2 207.0 480.9 207.0 477.7 205.3M400.0 161.8 410.4 160.1 424.3 158.7 440.0 158.3 455.7 159.7 462.6 161.0 461.7 164.4 455.7 165.3 450.4 167.0 443.5 168.8 434.8 171.4 430.4 174.9 426.1 176.6 422.6 181.0 417.4 181.8 408.7 182.3 400.0 182.7M400.0 167.0 410.4 166.7 423.5 166.2 417.4 167.9 405.2 169.7 407.8 172.3 403.5 175.7 400.0 177.5M400.0 185.3 410.4 184.4 418.3 184.8 420.0 187.0 415.7 188.8 407.0 189.3 400.0 189.0ZM405.2 192.3 410.4 191.4 417.4 192.3 426.1 192.8 432.2 194.9 437.4 198.3 443.5 201.8 448.7 206.2 447.8 210.5 453.9 212.3 460.0 214.0 461.7 217.5 457.4 221.0 450.4 219.2 448.7 222.7 452.2 226.2 455.7 228.8 451.3 232.3 445.2 230.5 439.1 227.0 433.0 224.4 426.1 224.4 422.6 221.8 427.8 219.2 434.8 217.5 436.5 214.0 433.0 209.7 427.8 207.0 423.5 204.4 417.4 204.4 410.4 203.6 405.2 200.1 407.0 195.7ZM426.1 210.5 429.6 209.1 432.2 211.4 429.6 214.0 426.4 213.1ZM400.0 204.4 405.2 206.2 407.0 210.5 403.5 213.1 400.0 212.3M403.5 216.6 407.8 217.5 413.0 222.7 417.4 226.2 412.2 225.3 407.0 222.7 404.3 220.1M410.8 229.7 414.8 228.8 413.9 231.4 411.1 231.9ZM418.6 230.7 420.9 230.7 421.2 233.5 419.0 234.0ZM400.0 252.3 407.0 254.9 413.0 257.5 414.8 263.6 419.1 269.7 422.6 267.0 422.6 259.2 426.1 254.0 427.0 247.9 422.6 245.3 423.5 238.3 424.3 232.3 427.8 230.5 434.8 231.4 440.0 234.9 444.3 238.3 446.1 243.6 451.3 242.7 454.8 238.3 458.3 242.7 461.7 248.8 466.1 254.0 470.4 258.3 473.9 262.7 475.7 267.9 469.6 269.7 464.3 271.4 459.1 273.1 452.2 274.0 447.0 277.5 443.5 281.8 440.3 285.0 445.2 281.0 452.2 277.5 459.1 276.6 460.9 274.9 457.4 278.3 452.2 280.1 455.7 285.3 460.0 287.0 465.2 285.3 464.3 288.8M467.0 281.8 471.3 273.1 473.9 267.9 476.5 273.1 478.3 276.6 481.7 279.2 480.9 285.3 476.5 283.6 473.9 282.7ZM420.0 251.4 421.7 251.9 421.2 253.7 419.7 253.1ZM547.5 219.2 551.3 216.6 556.5 218.3 561.7 217.1 567.0 216.6 571.3 219.2 571.3 222.7 567.0 225.3 560.0 227.0 553.9 225.3 550.4 222.7ZM627.7 170.5 636.3 169.3 646.8 167.9 657.2 167.9 665.0 168.8 663.3 171.4 655.5 171.9 649.4 171.4 652.9 174.9 659.0 177.5 654.6 179.2 649.4 176.6 646.8 173.1 643.3 178.3 640.7 181.3 634.6 178.3 629.4 174.0ZM705.0 167.0 711.1 166.2 719.0 167.0 715.5 169.1 709.4 168.8ZM725.0 167.9 732.0 165.0 737.2 163.6 741.6 166.2 749.4 164.4 752.0 165.7 746.8 167.9 737.2 168.8 730.3 168.4ZM721.6 196.6 725.9 189.7 733.7 185.3 744.2 181.8 754.6 179.6 760.7 179.6 759.8 182.7 749.4 185.3 739.8 188.8 733.7 193.1 730.3 198.3 734.6 201.0 732.0 202.2 725.0 201.0ZM832.0 165.3 822.4 165.0 815.5 167.0 812.0 169.7 816.3 172.3 824.2 173.7 832.0 174.9M616.3 245.3 613.7 238.3 614.6 232.3 619.8 227.9 625.0 224.4 628.5 219.2 632.9 214.0 636.3 210.5 632.9 210.5 639.8 207.0 646.8 203.6 655.5 201.0 664.2 200.1 671.1 201.8 672.9 204.4 669.4 203.6 678.1 205.3 686.8 207.0 693.7 209.7 697.2 213.1 696.3 216.6 691.1 217.5 685.0 215.7 679.0 214.9 681.6 217.5 683.3 222.7 686.8 224.4 689.4 221.8 693.7 222.7 697.2 219.2 702.4 216.6 703.3 211.4 706.8 209.7 709.4 214.0 712.9 212.3 718.1 210.5 723.3 208.8 730.3 207.9 733.7 208.8 740.7 209.7 741.6 205.3 738.1 202.7 744.2 204.4 751.1 206.2 758.1 209.7 760.7 207.9 757.2 203.6 756.3 200.1 759.8 195.7 765.0 192.3 769.4 194.9 768.5 200.1 770.3 207.0 769.4 211.4 765.0 215.7 769.4 217.5 773.7 213.1 774.6 208.8 772.0 203.6 772.9 198.3 775.5 194.0 779.0 196.6 778.1 200.1 781.6 199.2 785.9 195.7 791.1 198.0 791.1 194.9 788.5 192.3 795.5 191.4 800.7 189.7 803.3 186.2 810.3 185.3 817.2 183.6 824.2 182.7 832.0 181.0M671.7 234.9 675.5 233.5 678.1 235.7 675.5 238.7 672.2 238.0ZM682.1 230.5 684.2 229.3 686.4 234.9 684.2 236.3ZM714.6 206.2 716.7 205.7 717.4 207.9 715.3 208.4ZM811.8 168.8 816.5 165.7 822.6 165.3 827.8 167.9 832.2 171.4 837.4 170.9 842.6 172.6 843.5 175.4 836.5 176.6 831.3 175.7 830.4 173.7 822.6 173.1 815.7 171.4ZM800.0 190.5 805.2 186.2 813.9 183.6 822.6 182.3 829.6 181.8 836.5 178.3 841.7 177.5 850.4 180.1 859.1 181.3 863.5 184.4 861.7 188.8 855.7 189.7 847.8 193.1 853.9 190.5 860.9 190.5 869.6 191.4 876.5 194.0 885.2 193.1 890.4 191.4 896.5 192.8 900.0 195.7 899.1 199.2 902.6 201.5 906.1 199.2 911.3 199.7 918.3 198.7 923.5 198.3 924.3 194.9 928.7 194.0 937.4 195.7 944.3 197.5 949.6 200.1 956.5 201.0 965.2 201.0 969.6 203.6 972.2 205.7 980.9 205.3 987.0 206.2 991.3 204.4 993.9 207.9 998.3 205.0 1005.2 204.4 1013.9 205.0M917.4 185.3 921.7 183.0 928.7 183.6 934.8 184.8 932.2 187.0 925.2 187.6 920.0 187.6ZM938.3 185.7 944.3 185.0 948.7 186.2 944.3 187.2ZM924.3 190.0 929.6 190.5 931.3 192.8 926.1 192.8ZM921.7 262.7 920.0 259.2 914.8 258.3 912.2 256.6 915.7 254.0 920.0 248.8 925.2 244.4 929.6 241.8 937.4 241.0 944.3 239.7 949.6 240.1 951.3 242.7 956.5 241.0 959.1 236.6 963.5 234.0 968.7 233.1 971.3 235.7 975.7 232.3 979.1 230.0 980.0 231.4 975.7 236.6 972.2 240.1 967.0 244.4 962.6 249.7 959.1 254.0 958.6 262.7 960.0 271.4 958.3 273.1 961.7 269.7 965.2 264.4 969.6 259.2 973.9 255.7 974.8 252.3 977.4 247.0 975.7 243.6 979.1 240.1 984.3 238.3 991.3 238.3 998.3 234.9 1005.2 231.4 1013.9 230.5M1009.6 223.0 1013.9 222.7 1013.9 228.8 1011.3 226.2ZM840.9 267.9 845.2 266.2 850.4 261.0 854.3 254.9 853.0 259.2 848.7 265.3 843.5 268.8ZM317.4 280.0 318.3 287.0 317.0 293.9 317.4 302.6 319.1 309.6 322.6 317.4 326.1 324.3 330.4 330.4 334.8 336.5 337.4 342.6 340.9 348.7 344.3 353.0 347.0 358.3 350.4 363.5 352.2 367.8 349.6 366.1 346.1 359.1 342.6 353.0 340.9 347.0 339.7 340.0 341.7 338.3 344.3 344.3 347.0 350.4 350.4 356.5 353.9 361.7 358.3 367.8 360.9 373.9 360.9 379.1 365.2 383.5 371.3 388.7 377.4 391.3 383.5 393.0 387.0 392.2 392.2 398.3 398.3 401.7 402.6 404.3 405.2 409.6 408.7 414.8 413.0 417.4 418.3 422.6 420.0 419.1 423.5 422.6 425.2 429.6 426.1 436.0M486.1 436.0 480.9 429.6 473.9 427.0 468.7 422.6 464.3 417.4 461.7 412.2 456.5 411.3 451.3 413.0 447.0 409.6 442.6 407.0 440.0 407.0 439.1 412.2 438.8 416.5 437.4 410.4 433.9 408.7 430.4 412.2 428.7 417.4 426.1 420.9 421.7 416.5 418.3 415.7 414.8 413.9 413.0 410.4 411.3 403.5 411.3 396.5 408.7 393.9 402.6 393.0 400.0 389.6 400.9 382.6 403.0 375.7 400.0 373.9 396.5 375.7 394.8 380.9 390.4 384.3 385.2 384.0 380.9 379.1 378.6 372.2 378.3 363.5 379.1 354.8 382.6 348.7 387.0 345.2 392.2 344.3 396.5 345.2 397.4 342.6 402.6 341.7 407.8 343.5 412.2 347.0 413.9 352.2 415.7 357.4 418.3 360.9 419.7 356.5 418.3 349.6 416.5 341.7 418.3 335.7 422.6 330.4 428.7 325.2 429.6 320.9 427.8 316.5 428.7 311.3 432.2 307.8 437.4 304.3 441.7 301.7 442.6 297.4 447.8 293.0 453.0 290.4 456.5 287.8 461.7 285.2 464.3 287.8 460.0 291.3 453.9 293.9 451.3 296.5 456.5 294.8 462.6 291.3 465.2 287.0 463.5 283.5 467.8 280.0M467.0 281.7 473.9 282.6 480.9 281.7 481.7 285.2 477.4 284.3 472.2 283.5M392.2 285.2 397.4 281.7 404.3 280.9 408.7 283.5 406.1 286.1 411.3 287.8 417.4 288.7 420.0 293.0 414.8 297.4 413.0 293.0 409.6 290.4 404.3 292.2 405.2 299.1 403.5 302.6 401.7 297.4 402.6 290.4 400.0 286.1ZM412.2 302.6 420.0 298.3 428.7 294.8 427.8 297.4 421.7 300.9 414.8 304.0ZM408.7 371.3 413.0 367.8 420.0 368.7 427.0 373.0 433.0 377.4 432.2 379.5 425.2 377.4 420.0 374.8 414.8 371.3 411.3 373.0ZM433.0 380.0 439.1 378.8 446.1 380.9 445.2 384.3 439.1 385.2 435.7 386.1 432.2 384.3ZM423.5 384.0 426.6 383.5 427.8 385.2 424.9 386.1ZM448.7 384.0 451.7 383.7 452.2 385.4 449.2 385.7ZM422.6 355.7 425.6 355.1M423.8 360.0 425.2 365.2M428.7 360.9 432.2 365.2M461.7 391.3 462.6 397.4M441.7 283.5 445.2 280.0M425.2 420.0 426.1 427.0 424.3 435.7 420.9 442.6 418.3 449.6 417.4 456.5 419.1 459.1 416.5 465.2 417.4 470.4 420.0 475.7 423.5 484.3 427.0 493.0 430.4 500.0 436.5 506.1 441.7 511.3 442.6 519.1 441.7 531.3 440.9 545.2 439.1 559.1 437.4 569.6 435.7 576.0M466.1 420.0 469.6 425.2 476.5 427.8 482.6 431.3 486.1 437.4 488.7 443.5 487.8 448.7 485.2 451.3 487.0 453.0 488.7 449.6 491.3 453.0 493.9 450.4 499.1 453.9 502.6 457.4 508.7 458.3 514.8 461.7 520.0 465.6 523.1 469.6 523.5 475.7 521.7 482.6 518.3 488.7 514.8 494.8 513.0 501.7 513.9 508.7 512.2 515.7 509.6 522.6 506.1 527.8 500.0 529.6 494.8 533.9 491.3 539.1 490.4 545.2 487.8 552.2 484.3 559.1 480.0 565.2 476.5 568.7 471.3 569.6 468.7 567.8 469.6 571.3 471.3 576.0M573.0 420.0 577.4 425.2 581.7 430.4 586.1 433.0 591.3 431.3 597.4 430.4 603.5 427.8 608.7 425.2 613.0 426.1 616.5 432.2 620.0 433.0M440.0 560.0 438.3 568.7 435.7 577.4 434.8 586.1 433.9 594.8 432.2 603.5 430.4 611.3 431.3 617.4 430.4 624.3 431.3 629.6 433.9 633.9 439.1 636.5 444.3 640.9 447.0 642.1 453.0 639.7 449.6 636.5 446.1 631.3 445.2 629.6 446.1 624.3 448.7 619.1 451.3 613.9 449.6 608.7 451.3 602.6 454.8 597.4 455.7 592.2 460.0 588.7 460.9 584.3 466.1 582.6 470.4 578.3 472.2 572.2 470.4 567.8 475.7 568.7 480.9 565.2 484.3 560.0M432.2 631.3 437.4 633.9 440.9 631.3 445.2 629.6M433.0 593.9 435.7 593.9 436.0 601.7 433.6 605.2M462.6 628.7 466.1 627.0 470.4 627.8 469.6 630.4 465.2 631.0ZM516.5 636.5 519.1 637.4 520.9 639.7 518.3 638.6ZM496.5 658.8 499.3 659.1 499.0 660.3 496.9 660.0ZM463.5 665.7 470.4 664.3M380.0 699.1 388.7 701.2 399.1 703.0 411.3 703.7 422.6 703.5 424.3 701.2 428.7 701.2 432.2 703.7 440.0 704.3 447.0 702.3 449.6 698.8 448.2 693.6 448.7 688.7 446.1 685.2 444.3 682.6 447.0 680.9 449.6 681.7 452.2 678.3 456.5 673.9 461.7 671.3 467.0 669.6 474.8 668.7 476.5 669.9 470.4 671.3 465.2 673.0 460.0 676.2 455.7 680.0 453.0 684.3 453.9 687.8 459.1 690.4 461.7 695.7 464.3 700.9 463.5 706.1 460.9 711.3 454.8 714.8 450.4 716.0M448.2 693.6 444.7 689.6 441.2 689.0 440.5 692.5 443.0 696.5 437.4 698.4 430.8 696.7 428.3 693.6 430.8 691.5 433.6 692.5M428.7 692.5 432.2 691.3 433.9 693.6 430.8 694.8ZM380.0 700.0 382.6 701.7 381.7 705.2 380.0 705.7M534.8 716.0 545.2 710.4 555.7 706.1 566.1 702.6 574.8 700.0 575.7 697.4 580.0 696.5 583.5 698.3 586.1 694.8 590.4 695.7 594.8 693.9 600.0 693.6M600.3 289.4 600.3 292.9 598.9 296.7 594.3 296.7 589.8 296.0 584.7 295.7 582.0 298.1 582.9 301.6 582.9 305.1 581.5 312.8 582.6 319.0 586.1 318.3 588.6 320.8 590.2 322.5 593.0 320.1 598.0 319.7 601.9 316.9 603.0 313.1 602.4 310.3 605.1 305.1 610.4 302.0 609.9 297.4 612.2 296.4 615.4 297.1 618.9 296.4 620.2 295.3 623.5 293.2 626.4 295.0 627.1 298.5 631.2 302.7 634.9 305.4 638.8 308.6 639.7 313.1 638.9 315.5 640.9 314.5 642.3 312.1 640.9 309.6 642.0 306.8 645.2 309.3 645.5 307.5 644.1 306.1 639.7 303.3 640.0 301.8 637.4 301.6 635.1 298.8 634.2 296.0 631.5 293.9 631.2 290.1 634.5 289.1 634.2 291.2 636.3 290.5 637.9 293.9 640.9 296.4 643.2 298.1 645.5 300.2 647.5 302.3 647.5 306.8 648.9 309.6 650.5 312.4 651.4 314.5 652.3 316.9 652.8 319.7 654.4 320.8 655.5 320.4 656.0 317.6 656.9 315.9 658.1 316.6 658.1 314.9 655.8 312.1 655.5 310.7 654.9 306.8 657.4 307.9 659.0 305.4 662.7 305.8 663.1 308.2 664.3 311.0 664.5 313.8 665.4 317.3 666.1 319.7 668.2 320.1 670.2 321.5 673.2 319.7 675.3 320.4 677.8 322.2 681.0 321.1 684.4 320.4 686.0 320.1 685.4 323.2 685.4 327.7 683.5 333.0 682.1 338.2 681.5 338.9 677.6 339.3 675.3 338.2 671.8 338.9 669.5 340.3 664.9 338.6 660.4 337.9 658.1 336.5 655.8 334.4 653.5 333.3 649.1 335.8 648.9 339.9 647.1 342.4 643.2 340.6 638.6 337.5 637.4 335.1 633.3 333.3 629.4 332.3 626.4 329.8 627.1 325.0 628.3 319.4 626.4 318.0 623.7 318.7 620.2 319.0 615.7 319.7 609.9 319.4 605.3 321.1 600.8 323.6 597.8 325.3 593.9 325.3 590.7 322.9 589.3 323.6 587.5 329.5 583.6 331.9 581.3 336.5 580.6 341.7 580.1 345.2 576.7 349.7 573.2 351.5 569.8 356.3 566.8 364.3 564.1 373.1 565.9 380.0 565.2 390.5 562.9 396.8 564.8 402.7 564.5 405.1 567.5 408.6 569.1 410.4 572.1 414.9 573.2 418.4 576.7 423.9 581.3 429.2 585.6 432.7 591.6 430.2 596.2 430.2 598.5 431.3 603.0 428.5 605.8 426.7 609.2 425.7 613.1 426.0 615.7 431.6 618.0 433.0 622.1 432.3 623.7 434.8 625.5 437.5 625.1 441.0 624.6 444.5 624.4 448.0 623.2 450.8 624.8 456.7 628.3 461.6 630.6 467.2 631.2 469.3 633.5 477.6 634.7 485.3 633.8 491.6 631.2 496.8 630.1 505.5 630.1 510.7 632.4 517.7 636.1 526.4 636.3 531.7 637.9 541.8 640.9 547.7 642.7 554.3 645.0 561.3 645.2 566.9 647.8 568.9 648.9 569.3 653.5 566.9 658.1 566.9 662.0 566.5 664.9 564.8 668.4 561.3 671.8 556.7 674.1 551.9 677.1 548.0 678.5 540.4 677.8 538.3 682.1 534.1 684.4 531.0 684.2 524.7 682.8 519.5 682.6 517.0 686.3 513.5 690.2 508.3 694.8 503.8 696.1 500.3 696.6 496.8 695.9 491.6 695.7 485.6 693.8 479.4 693.1 474.1 692.0 468.9 692.9 464.4 695.0 458.5 698.2 454.3 700.9 449.0 705.1 442.8 709.7 437.5 713.1 432.3 716.5 425.3 718.8 416.6 720.2 411.4 720.7 406.9 719.5 406.5 715.4 408.6 710.8 409.3 706.2 411.4 702.8 408.6 702.1 407.6 700.9 402.0 697.5 397.5 694.8 394.3 693.6 390.5 692.2 385.3 689.2 382.8 688.3 376.5 688.1 371.3 686.3 366.1 684.4 363.0 682.6 355.6 680.8 352.1 679.2 348.3 677.8 343.8 677.1 344.8 678.5 348.7 680.3 350.4 681.5 351.1 682.1 348.7 683.1 345.2 683.3 345.9 682.8 348.7 684.0 351.1 686.7 357.4 688.3 361.6 691.1 365.7 692.5 371.3 692.9 374.8 694.8 377.6 697.5 383.5 699.3 387.0 700.9 391.2 701.6 397.5 702.5 403.4 705.1 403.7 706.2 403.4 710.8 400.6 715.4 397.5 720.0 394.7 722.7 392.2 725.7 389.8 729.6 387.0 732.6 383.5 735.6 381.8 736.0 376.9 738.3 373.8 740.1 369.6 739.0 367.8 737.4 365.7 734.2 364.7 732.3 361.6 732.1 356.7 731.4 357.7 729.8 359.8 728.0 363.3 723.6 363.6 721.3 363.3 721.3 360.9 721.1 357.4 720.0 357.4 719.5 360.9 718.1 358.8 717.9 354.9 715.4 352.1 714.2 348.7 713.1 345.2 714.2 343.4 715.4 342.4 717.7 342.7 719.5 346.9 721.1 350.8 724.6 354.9 728.0 355.3 731.4 353.5 733.3 353.9 734.4 358.1 738.3 359.5 744.0 360.5 749.8 359.8 755.5 359.1 757.3 361.6 759.4 365.0 760.8 367.1 763.5 368.5 761.2 370.3 763.5 374.8 765.8 375.5 768.6 374.1 769.5 370.6 769.9 374.8 769.9 381.8 771.1 388.7 772.2 394.0 773.8 399.2 774.8 404.4 776.8 409.0 778.0 413.8 779.6 419.1 780.9 419.8 782.3 417.0 784.2 415.6 784.8 412.1 786.2 411.8 786.0 407.9 787.1 401.6 786.7 395.7 787.1 392.9 789.4 391.2 791.7 389.8 794.5 386.3 797.9 381.1 801.4 378.3 802.5 374.8 804.8 372.7 807.1 372.0 810.5 370.6 812.8 369.6 814.0 373.1 814.6 375.8 817.4 380.0 819.5 385.3 819.5 391.5 821.5 392.9 823.1 390.5 825.9 389.4 827.0 392.2 827.0 397.5 828.2 402.7 829.1 407.9 828.9 413.1 828.4 418.4 829.3 420.5 831.2 423.9 833.0 427.1 833.2 430.6 833.9 434.1 835.3 438.2 838.0 441.0 840.3 443.1 841.9 443.1 841.5 439.3 840.1 435.8 840.1 432.3 838.7 427.8 836.9 426.0 834.6 423.9 833.4 422.6 832.8 418.4 830.7 415.6 830.5 411.8 831.8 407.2 832.3 404.4 833.0 401.3 834.4 401.3 834.6 403.7 837.3 405.5 838.9 407.2 840.3 411.1 842.6 411.8 843.8 413.1 843.3 417.7 844.9 416.6 847.2 414.5 848.3 411.8 851.1 409.7 853.4 407.2 853.6 402.7 853.4 399.2 852.5 394.3 851.1 391.5 849.0 389.1 847.2 386.0 845.6 382.5 845.6 380.0 847.4 377.2 849.0 374.8 851.1 373.1 852.9 372.7 854.3 373.4 854.8 376.9 856.1 377.2 856.4 374.1 859.1 372.7 862.1 371.3 864.4 370.3 866.7 368.9 870.1 367.8 873.1 364.3 875.2 361.6 877.2 358.4 877.5 355.3 879.3 352.8 881.6 349.4 882.5 345.2 881.6 343.4 880.2 342.4 882.5 340.3 882.3 337.5 880.2 334.4 878.8 329.5 876.5 326.4 877.2 324.3 879.1 322.2 883.4 319.4 883.9 317.6 880.4 316.9 877.0 318.3 875.6 316.2 873.1 313.8 872.9 311.7 875.9 311.0 880.4 305.4 883.2 306.8 880.9 312.1 882.7 312.1 888.0 308.9 890.3 310.3 889.6 313.8 889.2 315.5 891.9 316.6 893.1 319.0 892.8 322.5 893.1 326.0 892.6 327.7 895.3 327.1 898.8 325.7 899.9 322.5 899.7 319.0 897.6 314.5 895.3 310.3 896.5 308.6 900.4 305.1 901.1 301.6 902.7 300.6 905.7 297.4 909.1 298.8 913.7 294.6 917.1 289.4 920.6 284.2 924.5 277.2 925.1 272.0 927.2 266.8 926.8 262.6M669.5 304.7 666.1 299.9 668.8 293.9 671.1 290.5 673.4 285.9 676.4 285.9 680.1 287.7 677.6 289.8 679.8 292.5 681.0 293.2 684.2 291.2 686.7 290.1 683.7 287.7 685.6 285.2 689.0 284.2 693.1 283.5 690.6 287.3 688.8 290.1 690.6 293.2 694.1 296.0 698.2 299.9 698.4 303.0 694.8 305.1 691.3 305.1 687.9 304.4 685.6 303.3 683.7 301.6 679.8 301.6 675.3 304.0 671.4 304.4ZM715.4 285.9 720.0 284.2 723.4 284.9 724.6 285.9 724.6 290.1 721.1 290.5 720.0 292.9 718.4 292.9 720.4 297.4 723.6 299.2 723.4 303.3 725.7 305.8 724.6 308.6 725.9 311.4 726.4 318.0 726.8 319.4 722.3 320.1 718.8 318.3 716.1 316.6 715.2 313.8 716.1 311.0 716.5 307.5 718.4 307.2 716.1 304.0 714.2 301.6 712.2 298.1 711.7 294.6 710.3 292.5 711.5 289.4 714.2 287.7ZM737.2 288.4 739.5 285.6 742.9 285.9 744.0 289.4 741.7 293.6 739.5 295.7 736.9 295.3 737.2 291.2ZM771.5 289.1 772.7 286.3 776.1 284.9 780.7 285.6 784.2 285.6M622.8 298.5 624.6 298.1 624.9 301.3 624.4 303.7 622.8 302.0ZM621.8 305.4 624.1 304.4 625.5 306.8 625.1 311.4 623.5 312.4 622.3 311.4 622.3 307.5ZM631.5 315.5 634.0 314.9 638.8 314.7 637.7 319.0 637.7 320.1 635.8 319.0 632.6 316.9ZM656.9 324.3 659.9 324.6 663.3 325.0 663.1 326.0 659.7 326.4 657.2 325.3ZM677.1 326.0 678.7 324.6 682.4 323.6 680.8 326.0 678.7 327.4ZM608.6 310.0 610.4 308.8 610.8 310.0 609.9 311.0ZM561.8 348.0 562.5 348.7M564.8 349.4 565.9 348.7M567.1 350.1 567.7 351.1M570.7 348.7 571.9 346.6M633.1 398.5 634.7 398.2 635.8 400.6 637.4 403.0 636.5 404.8 635.1 404.1 634.2 401.6ZM676.0 449.7 677.6 447.0 680.5 447.3 681.7 450.1 681.0 452.5 679.8 455.7 678.2 457.4 676.4 456.4 675.7 453.2ZM670.0 459.9 671.1 463.3 671.6 468.6 673.2 472.4 674.3 478.0 673.2 477.3 671.8 472.4 670.4 468.6 670.0 464.0ZM681.0 481.5 682.1 484.6 682.4 489.1 683.3 493.3 683.7 497.5 682.6 497.8 681.9 493.3 681.2 488.4 680.8 484.2ZM716.1 489.8 718.1 496.8 718.8 502.0 717.2 507.3 715.4 514.2 713.8 522.9 711.9 531.7 710.8 535.1 707.4 536.9 703.9 535.1 702.3 526.4 703.5 521.2 705.1 516.0 703.9 509.0 705.1 504.5 708.5 503.1 710.8 500.3 713.1 495.8 715.2 491.6ZM725.5 404.1 727.8 404.1 727.5 405.1 725.7 405.1ZM786.0 414.2 787.6 414.9 789.4 418.4 790.8 422.6 790.1 425.7 787.8 427.4 786.4 426.4 786.0 421.9 786.2 417.3ZM852.2 380.7 854.1 378.3 857.1 378.3 857.5 380.0 856.1 383.5 854.1 384.6 852.2 383.2ZM881.6 359.8 882.7 361.6 881.6 366.1 880.2 371.3 878.8 368.9 878.4 365.7 879.8 362.3 880.7 360.5ZM903.1 329.8 905.0 331.9 905.4 334.4 904.3 338.2 902.7 339.9 901.5 338.6 901.8 335.8 900.6 333.7 900.6 331.6 902.0 330.5ZM906.8 328.8 909.3 328.4 911.6 328.8 911.8 330.2 910.7 331.9 908.4 333.0 907.3 333.7 906.6 331.6ZM903.1 329.5 904.3 327.7 906.8 325.0 908.6 324.3 911.4 323.9 913.7 323.9 914.8 321.8 916.4 319.0 917.8 317.3 917.1 319.7 920.6 317.6 922.6 314.9 923.8 311.4 924.0 308.6 924.2 305.1 926.3 303.7 927.2 304.0 927.4 306.8 928.6 310.0 927.4 314.2 926.3 315.5 926.1 319.0 925.4 322.5 925.8 323.6 924.7 325.7 923.5 326.0 923.3 324.3 921.9 325.3 921.2 327.1 919.9 327.4 917.6 327.4 916.9 326.0 916.0 327.7 916.7 328.4 915.3 329.8 914.1 331.2 912.8 329.8 913.2 327.7 911.4 327.1 909.1 328.1 906.3 328.4 904.1 329.5ZM924.0 299.9 924.9 297.1 927.0 297.4 927.9 292.9 928.1 289.8 929.7 291.2 932.0 293.6 934.3 294.6 936.2 293.6 936.8 296.7 934.3 298.1 931.6 301.6 928.6 299.9 926.3 299.9 925.1 301.6 926.3 302.3 924.7 303.3 924.0 301.6ZM937.8 293.6 939.6 291.8M941.2 290.5 943.5 288.4M946.0 287.7 947.8 286.3M951.5 284.2 952.2 283.1M953.8 280.0 954.5 279.0M957.2 276.2 958.4 274.8M959.5 273.0 960.9 270.9M879.5 383.5 883.2 383.5 883.7 388.7 881.8 392.2 882.3 398.5 885.0 399.6 887.3 402.7 887.5 404.4 885.7 402.0 883.9 401.6 882.0 399.6 879.5 399.2 880.2 396.8 878.4 396.4 877.9 391.5 879.1 390.5 879.1 387.0ZM890.8 413.8 892.6 417.3 893.3 422.6 892.4 426.0 890.8 428.5 890.3 424.3 887.8 426.4 887.1 421.9 883.0 423.6 883.0 420.8 885.0 418.4 886.9 419.8 888.9 418.4 889.6 416.6ZM888.0 404.4 890.3 404.4 891.2 409.0 889.6 412.4 889.2 409.7 889.4 406.9ZM882.7 406.9 885.3 407.9 885.3 410.4 885.9 414.9 885.0 416.3 884.1 413.5 884.8 410.0 882.7 411.4 882.5 407.9ZM871.7 418.7 874.7 414.5 877.0 410.0 877.2 408.6 875.9 411.4 873.6 415.6 872.0 417.7ZM879.1 401.3 880.9 401.3 881.6 404.1 880.9 405.5 880.0 403.4ZM821.5 428.5 826.6 429.9 828.4 433.4 831.6 436.8 834.1 440.3 836.4 442.1 838.9 444.9 841.0 448.0 840.3 451.5 842.6 454.3 846.1 458.5 845.8 463.7 845.6 468.2 842.6 467.9 840.3 465.1 837.6 461.9 834.6 457.1 833.0 452.2 831.2 447.3 829.5 442.1 827.0 438.6 824.3 435.1 822.0 431.3ZM844.2 471.7 846.3 468.6 848.3 468.6 851.3 470.0 852.0 471.4 856.4 472.1 857.5 470.3 861.2 472.1 865.5 474.8 865.3 478.3 862.1 476.9 857.5 476.9 852.9 475.2 849.5 474.8 847.2 473.8ZM865.5 476.2 868.3 476.9 867.1 478.7ZM868.8 476.9 870.6 477.3 869.9 479.0ZM870.8 477.3 873.6 476.2 875.9 476.9 875.9 478.3 873.1 479.4 870.8 479.4ZM877.9 477.3 880.4 476.9 884.8 476.2 884.6 478.0 880.4 479.0 877.9 478.7ZM875.9 480.8 878.1 480.4 880.0 482.9 878.1 483.9 876.1 482.2ZM886.2 483.9 888.5 480.1 890.8 478.0 894.2 477.3 894.9 477.6 891.9 480.8 888.5 483.6 886.4 484.2ZM854.3 441.0 857.5 442.8 858.4 439.3 862.1 436.8 864.4 432.3 867.8 428.8 870.8 423.6 872.9 425.3 876.3 429.5 874.0 432.3 872.9 434.1 873.6 440.0 875.9 444.5 873.1 445.2 872.4 450.8 870.1 453.2 869.4 458.5 869.0 461.6 866.0 462.3 865.5 459.9 862.1 459.2 859.4 460.2 855.7 458.1 855.2 453.2 853.2 449.7 852.9 445.2ZM880.0 443.5 883.9 444.5 888.5 443.5 890.1 442.4 888.5 446.3 885.0 446.3 880.4 446.3 878.4 448.0 880.0 452.5 881.8 451.1 885.5 451.1 885.9 452.2 882.7 454.6 881.6 455.0 883.9 460.2 885.5 463.7 883.9 467.2 882.7 464.7 881.6 464.0 880.4 460.2 880.2 457.4 879.1 458.5 879.1 467.2 877.0 467.2 877.0 460.2 875.4 457.8 876.5 452.5 877.7 448.0 878.4 445.2ZM895.6 441.0 896.5 443.8 898.3 443.1 896.9 446.3 897.9 449.0 896.5 450.8 895.8 447.0 895.3 444.5ZM896.5 458.5 899.9 457.8 902.9 459.2 902.2 460.9 898.8 459.9 896.7 460.2ZM892.1 459.2 894.7 459.5 894.4 461.2 892.4 460.9ZM903.1 451.1 906.8 449.4 910.2 450.8 910.7 453.2 910.7 456.7 912.5 459.5 914.8 455.7 918.3 453.2 921.7 455.0 926.3 457.1 930.9 459.9 934.3 461.6 937.3 464.7 937.3 467.2 941.2 468.9 941.9 471.7 940.5 472.4 942.3 475.9 945.8 481.1 948.1 483.6 946.9 484.9 943.5 483.6 940.0 481.1 937.8 476.6 934.3 474.8 932.0 476.9 930.9 480.1 927.4 480.1 924.0 476.6 920.6 476.9 919.4 473.4 921.2 471.7 919.4 467.2 914.8 464.0 911.4 461.9 908.0 462.3 907.5 459.5 905.7 458.1 909.1 456.7 906.1 455.7 903.4 452.9ZM943.0 467.5 946.9 466.1 950.4 462.6 952.2 463.0 951.5 466.5 948.1 469.6 944.6 469.6ZM948.8 457.1 951.5 459.5 953.8 463.7M957.7 467.2 960.0 470.0 960.5 471.7 958.8 470.7ZM961.8 472.4 964.1 475.2M965.3 475.9 969.4 477.6M968.9 480.4 971.7 482.2M972.8 483.6 975.1 485.6M979.0 518.1 982.5 521.5 985.9 525.7 984.8 525.7 981.3 522.9 979.0 519.5ZM985.0 500.3 986.4 502.7M986.6 504.5 987.7 505.9M1009.5 508.6 1012.3 509.0 1012.5 511.1 1009.7 511.1ZM1012.9 505.5 1015.5 504.5 1014.8 506.6ZM863.7 526.8 864.9 524.0 869.0 520.8 873.6 518.8 877.0 517.7 880.4 516.3 883.4 511.4 883.2 508.0 886.4 508.3 886.2 505.9 889.6 502.0 890.8 498.5 894.2 496.8 896.5 500.3 898.8 499.9 900.2 499.9 901.8 493.3 903.4 490.5 906.8 489.8 906.8 487.4 909.1 489.1 913.7 489.8 916.7 490.5 914.8 494.4 913.7 499.6 916.7 503.4 920.6 506.6 922.9 509.0 925.8 509.0 927.4 502.0 927.7 495.1 928.1 491.6 929.0 486.3 930.0 485.3 931.6 489.1 932.3 495.1 934.3 497.5 936.2 500.3 936.6 505.5 938.2 510.7 938.9 514.2 941.7 517.0 944.2 519.1 945.8 524.0 948.8 526.4 948.8 529.9 951.5 534.1 953.8 536.9 954.3 542.1 954.9 547.3 953.8 554.3 952.7 560.6 950.4 564.8 948.8 570.0 946.9 576.3 946.7 578.7 943.0 580.1 939.6 582.9 938.4 583.9 936.6 581.8 934.8 581.5 932.0 583.2 927.4 581.5 924.7 579.8 923.3 575.2 921.7 572.4 919.9 572.1 920.6 568.9 919.4 564.8 919.0 562.3 918.3 565.8 917.1 570.7 916.0 570.0 914.8 568.3 913.7 569.3 913.0 565.8 910.7 563.0 909.1 560.2 904.5 557.8 898.8 558.1 894.2 560.2 890.8 561.6 887.3 563.7 886.2 566.2 881.6 566.2 878.1 566.5 874.7 569.3 873.1 570.3 869.0 569.6 866.9 567.6 866.7 565.1 868.3 561.3 868.3 557.8 866.7 553.6 865.8 548.4 864.4 543.9 863.0 539.3 863.2 535.1 862.8 532.4 863.5 529.9ZM934.8 589.9 938.9 591.3 942.3 590.2 943.0 594.4 941.9 598.6 939.6 600.0 937.8 599.6 936.2 596.1 935.2 592.7ZM999.0 567.9 1000.8 570.0 1003.1 574.2 1004.9 575.2 1006.1 578.7 1008.8 579.8 1011.8 579.1 1011.6 582.5 1009.3 585.0 1008.6 588.5 1006.5 591.6 1004.9 593.0 1003.5 592.0 1004.5 588.1 1001.9 585.7 1001.5 584.6 1003.3 582.5 1003.5 578.7 1002.4 574.9 999.7 570.7ZM999.0 589.2 1001.7 590.9 1002.6 593.3 1000.1 597.9 999.2 600.7 995.8 602.4 994.6 607.6 991.6 610.4 988.9 610.4 985.0 608.3 985.4 605.5 988.2 602.1 992.1 599.6 995.5 595.8 997.1 592.0ZM245.4 377.6 247.5 379.0 247.9 380.0 246.3 382.1 245.4 379.7ZM244.0 375.2 245.2 375.8M240.4 373.1 241.5 373.8M236.9 371.0 237.6 371.3M393.1 449.0 394.4 448.3 394.7 451.1 393.5 451.5ZM928.6 258.7 930.6 261.5 931.3 266.8 931.6 272.0 933.2 276.5 930.9 276.9 931.3 282.4 932.3 284.9 930.4 285.6 929.7 287.7 928.6 287.7 928.6 282.4 928.8 279.0 928.6 273.7 928.1 268.5 928.4 263.3ZM190.6 741.9 201.2 743.3 214.5 744.1 228.8 746.6 243.2 747.0 258.6 746.6 267.9 745.9 266.3 743.7 254.2 742.6 250.9 738.2 249.8 732.7 254.2 730.9 263.0 730.0 269.2 729.4 260.8 727.2 252.0 723.8 243.2 721.2 239.9 718.3 243.2 716.8 252.0 718.3 260.8 717.2 265.2 713.9 274.1 711.7 282.9 710.6 291.7 709.1 298.3 708.8 304.9 711.7 311.1 712.8 313.8 708.8 319.3 705.1 321.5 704.0 325.9 705.1 332.5 705.1 334.7 708.4 340.3 710.2 345.8 706.2 350.2 707.3 352.4 710.2 359.0 709.7 364.5 708.4 370.0 708.4 374.5 709.5 372.9 705.1 368.9 704.0 373.3 699.6 380.0 699.1M227.7 725.0 231.0 722.7 235.4 723.8 236.1 726.5 232.1 728.3 228.4 727.2ZM258.6 715.0 264.1 714.1M450.5 715.9 460.0 717.2 468.8 717.7 479.9 720.5 493.1 723.4 504.1 723.4 515.2 722.7 526.2 718.3 534.8 715.9M599.0 694.1 601.2 697.4 605.6 696.3 614.5 693.4 625.5 692.5 636.5 692.5 647.6 693.4 656.4 694.3 665.2 693.0 674.0 691.2 679.5 689.6 680.7 687.4 685.1 689.6 690.6 692.5 693.9 688.5 700.5 685.9 709.3 684.1 716.0 683.7 719.3 679.7 724.8 678.0 731.4 679.7 734.7 681.9 740.0 683.7M738.0 683.7 749.0 684.1 761.2 684.8 762.3 689.6 764.5 694.1 768.9 691.9 775.5 691.2 782.1 687.4 791.0 683.7 799.8 681.5 810.8 680.8 821.8 680.6 830.7 680.2 837.3 678.4 843.9 678.8 851.6 681.0 857.2 678.4 862.7 678.0 870.4 680.6 879.2 681.0 885.8 679.7 892.5 679.3 896.9 681.9 901.3 679.3 907.9 678.6 916.7 679.7 925.6 681.0 933.3 683.0 938.8 685.9 947.6 687.2 956.4 688.5 965.3 690.3 971.9 692.5 975.2 694.7 976.3 693.0 982.9 694.1 990.6 696.3 994.4 698.0 991.8 702.2 986.2 705.3 982.9 708.0 977.4 711.1 976.3 715.0 978.5 719.4 982.9 721.2 976.3 722.1 970.8 723.4 969.2 727.2 970.8 731.6 977.4 734.9 987.3 737.7 998.4 739.3 1008.3 739.7 1013.8 740.6M984.0 717.7 988.4 717.2 990.6 718.1 986.9 719.4ZM760.8 618.1 764.4 618.8 764.0 620.9 761.2 620.5ZM600.3 289.4 600.5 287.0 598.0 284.2 596.6 282.4 593.2 281.4 592.0 279.3 595.0 277.9 599.4 278.6 599.2 275.1 600.5 275.8 603.0 276.2 603.5 274.8 606.5 273.4 606.7 270.6 608.8 269.9 611.1 268.8 612.7 266.8 613.8 263.3 615.7 262.2 619.1 261.5 621.8 261.2 622.8 260.1 623.5 258.7 622.8 256.6 621.8 254.6 621.6 251.1 622.5 249.0 624.8 248.6 627.1 246.9 626.9 251.1 627.8 252.1 625.7 255.2 625.5 256.6 626.0 258.0 628.3 258.7 628.3 259.8 631.0 259.1 634.0 258.4 635.6 260.1 639.7 258.7 645.0 257.0 646.1 258.4 648.4 258.4 650.0 257.0 651.2 254.6 651.2 250.0 652.3 247.9 654.9 246.9 656.2 249.3 658.8 248.6 659.0 244.8 656.9 243.0 656.9 241.7 660.4 240.6 664.9 240.6 667.7 240.3 671.8 239.2 668.6 237.1 663.8 237.5 660.4 238.2 655.8 239.2 652.3 236.8 651.9 232.6 652.3 228.4 655.8 224.9 659.7 221.8 661.1 219.7 658.1 218.7 654.2 219.0 652.3 222.8 648.9 226.3 645.5 229.1 642.7 232.9 642.5 236.4 645.5 238.9 646.1 241.0 643.9 243.0 641.3 244.1 641.1 247.6 640.0 251.8 637.0 252.5 635.6 254.9 632.9 254.9 631.9 252.1 630.8 249.3 630.1 246.5 628.7 243.0 627.4 241.3 627.4 239.2 625.1 242.4 621.8 245.5 619.1 245.8 616.3 245.1M628.3 253.9 631.2 252.5 631.9 254.2 631.0 256.3 628.7 255.6ZM625.5 254.6 627.6 254.6 627.6 255.9 626.0 255.9ZM644.8 246.2 646.6 246.2 646.1 248.3 644.8 249.3ZM653.3 244.1 655.8 243.7 655.8 244.8 653.9 245.8ZM590.0 273.5 595.0 272.7 600.3 271.3 606.0 269.9 606.3 268.8 604.4 268.5 606.9 264.7 603.7 263.3 603.3 261.2 600.3 257.7 599.4 254.6 598.2 252.8 595.7 252.8 598.0 249.3 598.9 247.2 595.0 246.9 593.4 247.6 595.9 243.7 591.6 243.7 591.1 245.8 589.8 248.3 590.2 251.1 588.8 251.8 590.4 254.9 592.0 254.6 591.8 257.0 595.0 256.6 596.2 259.8 595.9 261.9 593.0 262.2 593.4 264.0 593.7 265.7 591.1 267.1 593.2 268.1 595.9 268.8 596.2 269.5 593.4 269.5 591.4 272.3ZM588.8 266.1 589.3 263.3 588.8 260.1 590.4 258.0 588.8 255.6 586.3 255.2 584.0 256.3 583.3 258.4 580.1 259.1 581.0 261.9 581.7 264.7 579.4 266.8 581.0 268.5 584.3 267.4 587.0 266.4ZM586.1 230.8 588.1 230.8 587.7 232.6 586.3 232.2ZM599.4 236.8 600.8 237.1 600.3 239.2 599.4 238.5ZM586.5 244.8 588.6 244.8 587.0 247.6 585.9 248.6Z" fill="none" stroke="#111" stroke-width="1.15" stroke-linejoin="round" stroke-linecap="round"/><rect x="190.2" y="134.3" width="824.9" height="627.4" fill="none" stroke="#000" stroke-width="2.4"/><path d="M236.2 134.3v7.0M236.2 761.7v-7.0M282.1 134.3v7.0M282.1 761.7v-7.0M328.0 134.3v12.0M328.0 761.7v-12.0M373.8 134.3v7.0M373.8 761.7v-7.0M419.6 134.3v7.0M419.6 761.7v-7.0M465.5 134.3v12.0M465.5 761.7v-12.0M511.4 134.3v7.0M511.4 761.7v-7.0M557.2 134.3v7.0M557.2 761.7v-7.0M603.0 134.3v12.0M603.0 761.7v-12.0M648.9 134.3v7.0M648.9 761.7v-7.0M694.8 134.3v7.0M694.8 761.7v-7.0M740.6 134.3v12.0M740.6 761.7v-12.0M786.4 134.3v7.0M786.4 761.7v-7.0M832.3 134.3v7.0M832.3 761.7v-7.0M878.1 134.3v12.0M878.1 761.7v-12.0M924.0 134.3v7.0M924.0 761.7v-7.0M969.9 134.3v7.0M969.9 761.7v-7.0M190.4 726.8h7.0M1015.7 726.8h-7.0M190.4 692.0h7.0M1015.7 692.0h-7.0M190.4 657.1h12.0M1015.7 657.1h-12.0M190.4 622.3h7.0M1015.7 622.3h-7.0M190.4 587.4h7.0M1015.7 587.4h-7.0M190.4 552.6h12.0M1015.7 552.6h-12.0M190.4 517.7h7.0M1015.7 517.7h-7.0M190.4 482.9h7.0M1015.7 482.9h-7.0M190.4 448.0h12.0M1015.7 448.0h-12.0M190.4 413.1h7.0M1015.7 413.1h-7.0M190.4 378.3h7.0M1015.7 378.3h-7.0M190.4 343.4h12.0M1015.7 343.4h-12.0M190.4 308.6h7.0M1015.7 308.6h-7.0M190.4 273.7h7.0M1015.7 273.7h-7.0M190.4 238.9h12.0M1015.7 238.9h-12.0M190.4 204.0h7.0M1015.7 204.0h-7.0M190.4 169.2h7.0M1015.7 169.2h-7.0" stroke="#000" stroke-width="2.3" fill="none"/><rect x="1028.7" y="136.6" width="73.0" height="8.5" fill="#c0c4c4"/><rect x="1028.7" y="144.6" width="73.0" height="582.1" fill="url(#cb)"/><g font-family="Liberation Serif, Noto Serif CJK SC, serif" font-weight="bold" font-size="40" fill="#000" text-anchor="middle"><text x="359.5" y="115">太</text><text x="439.0" y="115">阳</text><text x="519.3" y="115">活</text><text x="601.0" y="115">动</text><text x="681.3" y="115">上</text><text x="761.8" y="115">升</text><text x="842.8" y="115">年</text></g><g font-family="Liberation Serif, serif" font-size="30" fill="#000"><text x="190.4" y="798" text-anchor="middle">-180</text><text x="328.0" y="798" text-anchor="middle">-120</text><text x="465.5" y="798" text-anchor="middle">-60</text><text x="603.0" y="798" text-anchor="middle">0</text><text x="740.6" y="798" text-anchor="middle">60</text><text x="878.1" y="798" text-anchor="middle">120</text><text x="1015.7" y="798" text-anchor="middle">180</text><text x="178.1" y="770.6" text-anchor="end">-90</text><text x="178.1" y="666.0" text-anchor="end">-60</text><text x="178.1" y="561.5" text-anchor="end">-30</text><text x="178.1" y="456.9" text-anchor="end">0</text><text x="178.1" y="352.3" text-anchor="end">30</text><text x="178.1" y="247.8" text-anchor="end">60</text><text x="178.1" y="143.2" text-anchor="end">90</text><text x="1105.2" y="157.4">5.000E6</text><text x="1105.2" y="199.0">2.721E6</text><text x="1105.2" y="240.6">1.481E6</text><text x="1105.2" y="282.1">8.060E5</text><text x="1105.2" y="323.7">4.387E5</text><text x="1105.2" y="365.3">2.387E5</text><text x="1105.2" y="406.9">1.299E5</text><text x="1105.2" y="448.5">7.071E4</text><text x="1105.2" y="490.0">3.848E4</text><text x="1105.2" y="531.6">2.094E4</text><text x="1105.2" y="573.2">1.140E4</text><text x="1105.2" y="614.8">6203</text><text x="1105.2" y="656.4">3376</text><text x="1105.2" y="697.9">1837</text><text x="1105.2" y="739.5">1000</text></g><g font-family="Liberation Sans, sans-serif" font-size="30" fill="#000"><text x="603.1" y="848.4" text-anchor="middle">Longitude</text><text transform="translate(116.4 468.5) rotate(-90)" text-anchor="middle">Latitude</text></g><g font-family="Liberation Serif, serif" font-weight="bold" fill="#000" font-size="35"><text x="1037.8" y="784">(cm</text><text x="1147.4" y="784">sr</text><text x="1219.2" y="784">s</text><text x="1251.2" y="784">)</text><g font-size="20"><text x="1096.8" y="764.3">-2</text><text x="1177.9" y="764.3">-1</text><text x="1234.2" y="764.3">-1</text></g><circle cx="1131.2" cy="774.8" r="6.1"/><circle cx="1212.1" cy="774.8" r="6.1"/></g></svg></body></html>
